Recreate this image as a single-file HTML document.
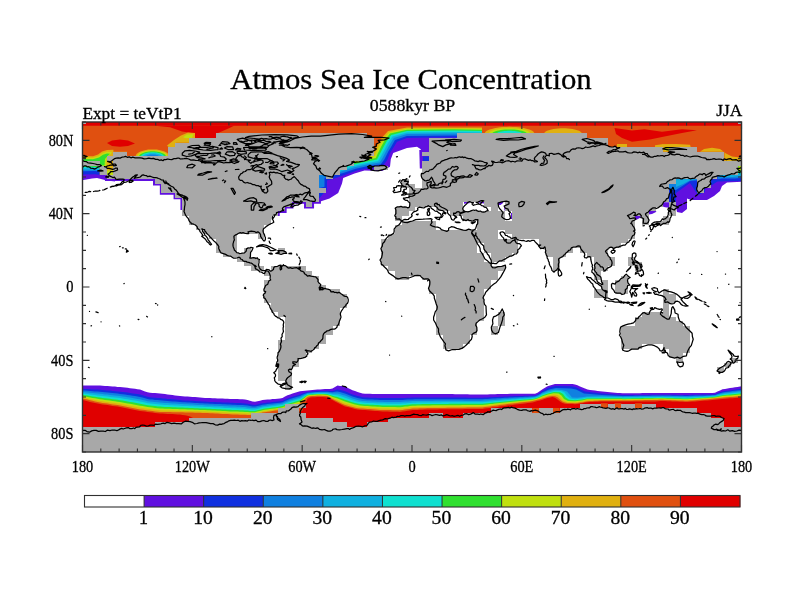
<!DOCTYPE html>
<html lang="en"><head><meta charset="utf-8"><title>Atmos Sea Ice Concentration</title>
<style>html,body{margin:0;padding:0;background:#fff;overflow:hidden}svg{display:block}text{font-family:"Liberation Serif", "DejaVu Serif", serif;fill:#000;stroke:#000;stroke-width:0.3px}</style>
</head><body>
<svg width="800" height="600" viewBox="0 0 800 600">
<rect width="800" height="600" fill="#fff"/>
<g id="ice" clip-path="url(#clipmap)">
<path fill="#e05010" d="M80.0 120.0 L745.0 120.0 L745.0 172.0 L80.0 172.0 Z"/>
<path fill="#ffffff" d="M368.0 133.4 L500.0 133.4 L500.0 215.0 L318.0 215.0 L318.0 172.0 L345.0 172.0 L368.0 160.0 Z"/>
<path fill="#6010e0" d="M482.0 150.5 L429.5 150.5 L429.5 168.0 L420.8 168.0 L420.8 149.2 L417.0 146.8 L407.0 148.0 L393.2 153.0 L390.8 159.2 L390.0 166.8 L382.0 171.0 L364.5 170.5 L354.5 173.5 L343.2 178.0 L342.0 183.5 L338.2 193.0 L329.5 198.5 L319.5 201.8 L300.0 201.8 L300.0 122.0 L482.0 122.0 Z"/>
<path fill="#1030e0" d="M482.0 138.0 L454.5 137.5 L432.0 137.5 L407.0 138.0 L397.0 141.8 L393.2 148.0 L390.0 153.0 L387.0 160.5 L382.0 166.8 L369.5 168.0 L357.0 170.5 L344.5 175.0 L335.8 178.0 L327.0 180.5 L327.0 189.2 L319.5 198.0 L300.0 198.0 L300.0 122.0 L482.0 122.0 Z"/>
<path fill="#1080e0" d="M482.0 136.0 L454.5 135.5 L407.0 136.0 L395.0 140.0 L391.2 146.8 L388.2 151.8 L384.5 159.2 L380.8 164.2 L368.2 166.0 L355.8 168.8 L343.2 173.0 L332.0 176.0 L324.5 178.0 L324.5 186.8 L319.5 188.0 L300.0 188.0 L300.0 122.0 L482.0 122.0 Z"/>
<path fill="#10b0e0" d="M482.0 134.0 L454.5 133.5 L407.0 134.0 L393.8 138.0 L389.5 145.0 L386.5 150.5 L382.5 158.0 L379.5 162.5 L367.0 164.5 L354.5 167.2 L342.0 171.2 L335.8 174.2 L319.5 174.2 L300.0 174.2 L300.0 122.0 L482.0 122.0 Z"/>
<path fill="#10e0d0" d="M482.0 132.5 L454.5 132.0 L407.0 132.5 L392.5 136.5 L388.0 143.0 L384.8 149.2 L381.0 156.2 L378.2 161.0 L365.8 163.2 L353.2 166.0 L342.0 169.8 L337.5 172.0 L319.5 172.0 L300.0 172.0 L300.0 122.0 L482.0 122.0 Z"/>
<path fill="#30e030" d="M482.0 131.0 L454.5 130.5 L407.0 131.0 L391.2 135.0 L386.5 141.5 L383.2 147.5 L379.5 154.5 L377.0 159.5 L364.5 162.0 L352.5 164.8 L342.0 168.0 L339.0 170.0 L319.5 170.0 L300.0 170.0 L300.0 122.0 L482.0 122.0 Z"/>
<path fill="#c0e010" d="M482.0 129.8 L454.5 129.2 L407.0 129.8 L390.0 133.5 L385.0 140.0 L381.5 146.0 L378.0 153.0 L375.8 158.0 L364.0 160.8 L352.5 163.2 L319.5 165.5 L300.0 165.5 L300.0 122.0 L482.0 122.0 Z"/>
<path fill="#e0b010" d="M482.0 128.8 L467.0 128.5 L407.0 128.8 L389.0 132.2 L383.8 138.5 L380.0 144.5 L376.5 151.5 L374.5 156.0 L367.0 158.0 L319.5 160.5 L300.0 160.5 L300.0 122.0 L482.0 122.0 Z"/>
<path fill="#e05010" d="M482.0 127.5 L407.0 127.5 L388.0 131.0 L382.5 137.0 L378.5 143.0 L375.0 150.0 L372.0 153.0 L319.5 155.5 L300.0 155.5 L300.0 122.0 L482.0 122.0 Z"/>
<path fill="#1030e0" d="M422.8 156.4 L429.8 156.4 L429.8 161.0 L422.8 161.0 Z"/>
<path fill="#e00000" d="M80.0 120.0 L745.0 120.0 L745.0 125.8 L80.0 125.8 Z"/>
<path fill="#e00000" d="M155.0 125.8 L170.0 127.3 L182.0 131.5 L193.0 133.3 L195.0 138.0 L217.5 138.0 L217.5 133.3 L229.5 127.9 L234.0 125.8 Z"/>
<path fill="#e0b010" d="M195.0 133.0 L188.0 132.5 L181.0 135.5 L174.0 140.0 L167.0 145.5 L169.0 147.5 L176.0 147.4 L176.0 142.8 L189.7 142.8 L189.7 138.2 L195.0 138.0 Z"/>
<path fill="#c0e010" d="M193.5 134.3 L187.0 134.5 L183.0 137.2 L186.0 138.3 L192.0 138.0 Z"/>
<path fill="#e00000" d="M107.0 143.0 L112.0 140.5 L120.0 139.5 L128.0 140.5 L135.0 143.5 L128.0 146.0 L120.0 146.8 L112.0 146.0 Z"/>
<path fill="#e0b010" d="M169.5 156.6 L169.4 155.7 L168.9 154.7 L168.2 153.8 L167.2 153.0 L166.0 152.2 L164.5 151.5 L162.8 150.9 L161.0 150.4 L159.0 149.9 L156.9 149.6 L154.7 149.5 L152.5 149.4 L150.3 149.5 L148.1 149.6 L146.0 149.9 L144.0 150.4 L142.2 150.9 L140.5 151.5 L139.0 152.2 L137.8 153.0 L136.8 153.8 L136.1 154.7 L135.6 155.7 L135.5 156.6 Z"/>
<path fill="#c0e010" d="M167.7 156.6 L167.6 155.8 L167.2 155.0 L166.5 154.2 L165.7 153.5 L164.6 152.8 L163.2 152.2 L161.8 151.7 L160.1 151.2 L158.3 150.9 L156.4 150.6 L154.5 150.5 L152.5 150.4 L150.5 150.5 L148.6 150.6 L146.7 150.9 L144.9 151.2 L143.2 151.7 L141.8 152.2 L140.4 152.8 L139.3 153.5 L138.5 154.2 L137.8 155.0 L137.4 155.8 L137.3 156.6 Z"/>
<path fill="#30e030" d="M166.0 156.6 L165.9 155.9 L165.5 155.2 L165.0 154.6 L164.2 153.9 L163.2 153.4 L162.0 152.9 L160.7 152.4 L159.2 152.0 L157.7 151.7 L156.0 151.5 L154.3 151.3 L152.5 151.3 L150.7 151.3 L149.0 151.5 L147.3 151.7 L145.8 152.0 L144.3 152.4 L143.0 152.9 L141.8 153.4 L140.8 153.9 L140.0 154.6 L139.5 155.2 L139.1 155.9 L139.0 156.6 Z"/>
<path fill="#10e0d0" d="M164.0 156.6 L163.9 156.0 L163.6 155.5 L163.1 155.0 L162.5 154.4 L161.6 154.0 L160.6 153.6 L159.5 153.2 L158.2 152.9 L156.9 152.6 L155.5 152.4 L154.0 152.3 L152.5 152.3 L151.0 152.3 L149.5 152.4 L148.1 152.6 L146.8 152.9 L145.5 153.2 L144.4 153.6 L143.4 154.0 L142.5 154.4 L141.9 155.0 L141.4 155.5 L141.1 156.0 L141.0 156.6 Z"/>
<path fill="#10b0e0" d="M162.0 156.6 L161.9 156.2 L161.7 155.7 L161.3 155.3 L160.7 154.9 L160.0 154.5 L159.2 154.2 L158.3 153.9 L157.2 153.7 L156.1 153.5 L155.0 153.3 L153.7 153.2 L152.5 153.2 L151.3 153.2 L150.0 153.3 L148.9 153.5 L147.8 153.7 L146.7 153.9 L145.8 154.2 L145.0 154.5 L144.3 154.9 L143.7 155.3 L143.3 155.7 L143.1 156.2 L143.0 156.6 Z"/>
<path fill="#1080e0" d="M159.0 156.6 L158.9 156.3 L158.8 156.0 L158.5 155.8 L158.1 155.5 L157.7 155.3 L157.1 155.0 L156.5 154.9 L155.8 154.7 L155.0 154.6 L154.2 154.5 L153.3 154.4 L152.5 154.4 L151.7 154.4 L150.8 154.5 L150.0 154.6 L149.2 154.7 L148.5 154.9 L147.9 155.0 L147.3 155.3 L146.9 155.5 L146.5 155.8 L146.2 156.0 L146.1 156.3 L146.0 156.6 Z"/>
<path fill="#e00000" d="M614.5 128.0 L632.0 130.5 L644.5 129.3 L662.0 131.7 L682.0 129.3 L697.0 130.3 L682.0 133.0 L662.0 137.0 L650.0 139.5 L632.0 141.7 L622.0 138.0 L616.0 134.0 Z"/>
<path fill="#e0b010" d="M534.5 133.8 L534.3 132.9 L533.6 132.0 L532.6 131.1 L531.2 130.3 L529.3 129.5 L527.2 128.9 L524.7 128.2 L522.0 127.7 L519.1 127.3 L516.0 127.0 L512.8 126.9 L509.5 126.8 L506.2 126.9 L503.0 127.0 L499.9 127.3 L497.0 127.7 L494.3 128.2 L491.8 128.9 L489.7 129.5 L487.8 130.3 L486.4 131.1 L485.4 132.0 L484.7 132.9 L484.5 133.8 Z"/>
<path fill="#c0e010" d="M530.5 133.8 L530.3 133.1 L529.8 132.4 L528.9 131.7 L527.7 131.0 L526.2 130.4 L524.3 129.8 L522.3 129.4 L520.0 129.0 L517.5 128.6 L514.9 128.4 L512.2 128.2 L509.5 128.2 L506.8 128.2 L504.1 128.4 L501.5 128.6 L499.0 129.0 L496.7 129.4 L494.7 129.8 L492.8 130.4 L491.3 131.0 L490.1 131.7 L489.2 132.4 L488.7 133.1 L488.5 133.8 Z"/>
<path fill="#30e030" d="M527.0 133.8 L526.9 133.2 L526.4 132.7 L525.7 132.2 L524.7 131.7 L523.4 131.2 L521.9 130.8 L520.2 130.4 L518.2 130.1 L516.2 129.8 L514.0 129.6 L511.8 129.5 L509.5 129.5 L507.2 129.5 L505.0 129.6 L502.8 129.8 L500.8 130.1 L498.8 130.4 L497.1 130.8 L495.6 131.2 L494.3 131.7 L493.3 132.2 L492.6 132.7 L492.1 133.2 L492.0 133.8 Z"/>
<path fill="#10e0d0" d="M522.5 133.8 L522.4 133.4 L522.1 133.0 L521.5 132.7 L520.8 132.3 L519.8 132.0 L518.7 131.7 L517.4 131.4 L516.0 131.2 L514.5 131.0 L512.9 130.9 L511.2 130.8 L509.5 130.8 L507.8 130.8 L506.1 130.9 L504.5 131.0 L503.0 131.2 L501.6 131.4 L500.3 131.7 L499.2 132.0 L498.2 132.3 L497.5 132.7 L496.9 133.0 L496.6 133.4 L496.5 133.8 Z"/>
<path fill="#e0b010" d="M582.0 133.8 L581.8 133.1 L581.4 132.4 L580.6 131.7 L579.5 131.1 L578.1 130.5 L576.4 129.9 L574.6 129.4 L572.5 129.0 L570.3 128.7 L567.9 128.5 L565.5 128.3 L563.0 128.3 L560.5 128.3 L558.1 128.5 L555.7 128.7 L553.5 129.0 L551.4 129.4 L549.6 129.9 L547.9 130.5 L546.5 131.1 L545.4 131.7 L544.6 132.4 L544.2 133.1 L544.0 133.8 Z"/>
<path fill="#e0b010" d="M617.0 144.0 L627.0 144.0 L627.0 147.3 L617.0 147.3 Z"/>
<path fill="#e0b010" d="M662.0 144.5 L676.0 144.2 L676.0 151.8 L662.0 151.8 Z"/>
<path fill="#c0e010" d="M665.0 146.5 L672.0 146.5 L672.0 150.5 L665.0 150.5 Z"/>
<path fill="#e0b010" d="M655.0 145.2 L662.0 144.3 L676.0 144.0 L690.0 144.8 L691.0 147.4 L655.0 147.4 Z"/>
<path fill="#e0b010" d="M700.0 151.8 L704.0 149.0 L712.0 147.7 L720.0 149.0 L726.0 153.5 L732.0 156.5 L745.0 158.0 L745.0 161.2 L724.4 161.2 L724.4 151.8 Z"/>
<path fill="#6010e0" d="M80.0 161.0 L106.5 161.0 L106.5 175.0 L115.0 179.3 L115.0 181.5 L107.0 180.5 L97.0 178.0 L92.0 178.5 L80.0 180.7 Z"/>
<path fill="#1030e0" d="M80.0 161.0 L106.5 161.0 L106.5 175.0 L101.0 175.0 L95.0 174.3 L80.0 174.5 Z"/>
<path fill="#1080e0" d="M80.0 161.0 L99.7 161.0 L99.7 171.5 L95.0 171.0 L80.0 171.2 Z"/>
<path fill="#10b0e0" d="M80.0 161.0 L99.7 161.0 L99.7 170.0 L94.0 169.5 L80.0 169.7 Z"/>
<path fill="#10e0d0" d="M80.0 161.0 L99.7 161.0 L99.7 168.6 L93.0 168.0 L80.0 168.3 Z"/>
<path fill="#30e030" d="M80.0 161.0 L99.7 161.0 L99.7 167.2 L92.0 166.8 L80.0 167.0 Z"/>
<path fill="#e0b010" d="M80.0 155.8 L93.0 156.3 L98.0 154.5 L102.0 151.5 L107.0 150.0 L113.4 149.8 L113.4 151.8 L127.0 151.8 L127.0 156.4 L113.4 156.4 L113.4 175.0 L99.7 175.0 L99.7 161.0 L80.0 161.0 Z"/>
<path fill="#c0e010" d="M80.0 157.3 L93.0 157.8 L98.5 156.0 L102.5 153.2 L107.0 151.8 L112.0 152.0 L110.0 155.0 L107.0 158.0 L106.5 161.0 L106.5 166.0 L99.7 166.0 L99.7 161.0 L80.0 161.0 Z"/>
<path fill="#30e030" d="M80.0 159.0 L93.0 159.3 L99.0 157.5 L103.0 154.8 L107.0 153.5 L110.0 153.8 L107.5 156.0 L105.0 159.0 L104.5 165.5 L99.7 165.5 L99.7 161.0 L80.0 161.0 Z"/>
<path fill="#c0e010" d="M106.5 170.5 L113.4 170.5 L113.4 175.0 L106.5 175.0 Z"/>
<path fill="#6010e0" d="M712.0 174.7 L745.0 174.7 L745.0 181.5 L727.0 182.5 L722.0 186.0 L720.0 191.0 L714.0 196.0 L707.0 200.0 L699.0 200.0 L691.0 200.0 L687.0 198.5 L687.0 209.0 L682.0 213.0 L677.0 212.0 L676.0 207.0 L669.0 205.0 L669.0 174.7 Z"/>
<path fill="#1030e0" d="M738.0 165.5 L745.0 165.5 L745.0 181.0 L725.0 181.2 L717.5 181.5 L712.0 185.0 L704.0 189.0 L704.0 179.3 L717.5 179.3 L717.5 174.7 L738.0 174.7 Z"/>
<path fill="#1080e0" d="M738.0 165.5 L745.0 165.5 L745.0 177.5 L735.0 178.5 L722.0 178.5 L717.5 179.3 L717.5 174.7 L738.0 174.7 Z"/>
<path fill="#10b0e0" d="M738.0 165.5 L745.0 165.5 L745.0 175.5 L732.0 177.0 L720.0 177.3 L720.0 174.7 L738.0 174.7 Z"/>
<path fill="#10e0d0" d="M738.0 165.5 L745.0 165.5 L745.0 173.5 L738.0 174.0 Z"/>
<path fill="#30e030" d="M738.0 165.5 L745.0 165.5 L745.0 172.0 L738.0 172.5 Z"/>
<path fill="#c0e010" d="M738.5 165.5 L745.0 165.5 L745.0 170.0 L738.5 170.5 Z"/>
<path fill="#1030e0" d="M669.0 174.7 L705.0 174.7 L705.0 192.0 L698.0 195.0 L690.0 183.0 L676.0 193.0 L676.0 202.0 L669.0 203.0 Z"/>
<path fill="#1080e0" d="M669.0 174.7 L700.0 174.7 L700.0 180.0 L690.0 181.0 L676.0 190.0 L670.0 190.0 L669.0 189.0 Z"/>
<path fill="#10b0e0" d="M676.0 179.3 L697.0 179.3 L690.0 180.3 L683.0 184.0 L676.0 187.0 Z"/>
<path fill="#6010e0" d="M662.0 202.5 L669.0 202.5 L669.0 207.5 L664.0 207.0 L662.0 205.0 Z"/>
<path fill="#6010e0" d="M498.0 201.3 L503.0 201.3 L503.0 203.0 L500.5 205.0 L498.0 205.0 Z"/>
<path fill="#6010e0" d="M504.3 206.0 L505.3 206.0 L505.3 210.5 L504.3 210.5 Z"/>
<path fill="#6010e0" d="M511.0 213.0 L512.0 213.0 L512.0 219.0 L511.0 219.0 Z"/>
<path fill="#6010e0" d="M634.5 215.2 L640.7 215.2 L640.7 217.5 L637.0 219.5 L634.5 219.5 Z"/>
<path fill="#6010e0" d="M648.5 210.6 L655.0 210.6 L656.5 211.8 L652.0 214.0 L648.5 214.5 Z"/>
<path fill="#6010e0" d="M662.0 202.5 L669.0 202.5 L669.0 207.5 L664.0 207.0 L662.0 205.0 Z"/>
<path fill="#6010e0" d="M419.3 150.0 L423.0 150.0 L423.0 168.5 L419.8 168.5 Z"/>
<path fill="#6010e0" d="M464.0 201.6 L469.5 201.6 L469.5 203.2 L464.0 203.8 Z"/>
<path fill="#6010e0" d="M477.0 201.2 L484.0 201.2 L484.0 203.6 L480.0 203.0 Z"/><path fill="#6010e0" d="M80.0 385.6 L82.5 385.6 L85.0 385.6 L87.5 385.6 L90.0 385.6 L92.5 385.5 L95.0 385.5 L97.5 385.5 L100.0 385.5 L102.5 385.7 L105.0 385.9 L107.5 386.0 L110.0 386.2 L112.5 386.4 L115.0 386.6 L117.5 386.9 L120.0 387.1 L122.5 387.3 L125.0 387.5 L127.5 387.8 L130.0 388.2 L132.5 388.5 L135.0 388.8 L137.5 389.2 L140.0 389.5 L142.5 390.4 L145.0 391.4 L147.5 392.3 L150.0 392.7 L152.5 392.9 L155.0 393.1 L157.5 393.3 L160.0 393.5 L162.5 393.8 L165.0 394.1 L167.5 394.4 L170.0 394.8 L172.5 395.1 L175.0 395.4 L177.5 395.7 L180.0 396.0 L182.5 396.2 L185.0 396.4 L187.5 396.6 L190.0 396.7 L192.5 396.9 L195.0 397.1 L197.5 397.3 L200.0 397.5 L202.5 397.7 L205.0 397.9 L207.5 398.0 L210.0 398.1 L212.5 398.2 L215.0 398.3 L217.5 398.4 L220.0 398.5 L222.5 398.6 L225.0 398.7 L227.5 398.8 L230.0 398.9 L232.5 399.0 L235.0 399.0 L237.5 399.1 L240.0 399.2 L242.5 399.3 L245.0 399.5 L247.5 400.1 L250.0 400.8 L252.5 401.4 L255.0 401.8 L257.5 401.2 L260.0 400.7 L262.5 400.1 L265.0 399.8 L267.5 399.6 L270.0 399.4 L272.5 399.1 L275.0 398.9 L277.5 398.7 L280.0 398.5 L282.5 398.0 L285.0 396.6 L287.5 395.3 L290.0 394.4 L292.5 393.6 L295.0 392.8 L297.5 392.1 L300.0 391.3 L302.5 390.9 L305.0 390.7 L307.5 390.4 L310.0 390.2 L312.5 390.0 L315.0 389.8 L317.5 389.6 L320.0 389.4 L322.5 389.2 L325.0 389.1 L327.5 389.0 L330.0 388.9 L332.5 388.4 L335.0 386.9 L337.5 385.6 L340.0 385.9 L342.5 386.1 L345.0 386.5 L347.5 387.8 L350.0 389.0 L352.5 390.2 L355.0 391.0 L357.5 391.9 L360.0 392.7 L362.5 393.6 L365.0 393.8 L367.5 393.8 L370.0 393.8 L372.5 393.9 L375.0 393.9 L377.5 393.9 L380.0 394.0 L382.5 394.0 L385.0 394.0 L387.5 394.0 L390.0 394.0 L392.5 394.0 L395.0 394.0 L397.5 394.0 L400.0 394.0 L402.5 394.0 L405.0 394.0 L407.5 394.0 L410.0 394.0 L412.5 394.0 L415.0 394.0 L417.5 394.0 L420.0 394.0 L422.5 394.0 L425.0 394.0 L427.5 394.0 L430.0 394.0 L432.5 394.0 L435.0 394.0 L437.5 394.0 L440.0 394.0 L442.5 394.0 L445.0 394.1 L447.5 394.1 L450.0 394.1 L452.5 394.1 L455.0 394.2 L457.5 394.2 L460.0 394.2 L462.5 394.3 L465.0 394.3 L467.5 394.3 L470.0 394.4 L472.5 394.4 L475.0 394.4 L477.5 394.4 L480.0 394.5 L482.5 394.5 L485.0 394.4 L487.5 394.4 L490.0 394.3 L492.5 394.2 L495.0 394.2 L497.5 394.1 L500.0 394.1 L502.5 394.0 L505.0 393.9 L507.5 393.9 L510.0 393.8 L512.5 393.8 L515.0 393.8 L517.5 393.8 L520.0 393.8 L522.5 393.8 L525.0 393.8 L527.5 393.8 L530.0 393.8 L532.5 393.8 L535.0 393.8 L537.5 392.7 L540.0 390.9 L542.5 389.2 L545.0 387.8 L547.5 386.3 L550.0 385.4 L552.5 384.7 L555.0 384.0 L557.5 384.0 L560.0 384.0 L562.5 384.0 L565.0 384.0 L567.5 384.0 L570.0 384.0 L572.5 384.1 L575.0 384.6 L577.5 385.2 L580.0 386.4 L582.5 387.5 L585.0 388.6 L587.5 389.6 L590.0 389.9 L592.5 390.2 L595.0 390.6 L597.5 390.9 L600.0 391.2 L602.5 391.5 L605.0 391.8 L607.5 392.0 L610.0 392.2 L612.5 392.4 L615.0 392.7 L617.5 392.9 L620.0 393.1 L622.5 393.3 L625.0 393.3 L627.5 393.3 L630.0 393.2 L632.5 393.2 L635.0 393.2 L637.5 393.2 L640.0 393.2 L642.5 393.1 L645.0 393.1 L647.5 393.1 L650.0 393.1 L652.5 393.1 L655.0 393.1 L657.5 393.0 L660.0 393.0 L662.5 393.0 L665.0 393.0 L667.5 393.0 L670.0 393.0 L672.5 393.0 L675.0 393.0 L677.5 393.0 L680.0 393.0 L682.5 393.0 L685.0 393.0 L687.5 393.0 L690.0 393.0 L692.5 393.0 L695.0 393.0 L697.5 393.0 L700.0 393.0 L702.5 393.0 L705.0 393.0 L707.5 393.0 L710.0 393.0 L712.5 393.0 L715.0 392.8 L717.5 391.6 L720.0 390.4 L722.5 389.3 L725.0 388.9 L727.5 388.5 L730.0 388.1 L732.5 387.7 L735.0 387.3 L737.5 386.9 L740.0 386.5 L742.5 386.2 L745.0 386.2 L745.0 455.0 L80.0 455.0 Z"/>
<path fill="#1030e0" d="M80.0 388.8 L82.5 388.8 L85.0 389.0 L87.5 389.1 L90.0 389.2 L92.5 389.4 L95.0 389.5 L97.5 389.6 L100.0 389.8 L102.5 390.0 L105.0 390.2 L107.5 390.4 L110.0 390.6 L112.5 390.9 L115.0 391.2 L117.5 391.4 L120.0 391.7 L122.5 392.0 L125.0 392.2 L127.5 392.6 L130.0 393.0 L132.5 393.4 L135.0 393.8 L137.5 394.1 L140.0 394.5 L142.5 395.3 L145.0 396.1 L147.5 396.8 L150.0 397.2 L152.5 397.4 L155.0 397.7 L157.5 397.9 L160.0 398.1 L162.5 398.4 L165.0 398.6 L167.5 398.9 L170.0 399.1 L172.5 399.3 L175.0 399.6 L177.5 399.8 L180.0 400.1 L182.5 400.2 L185.0 400.4 L187.5 400.5 L190.0 400.7 L192.5 400.8 L195.0 401.0 L197.5 401.2 L200.0 401.3 L202.5 401.5 L205.0 401.6 L207.5 401.8 L210.0 401.9 L212.5 402.0 L215.0 402.1 L217.5 402.2 L220.0 402.3 L222.5 402.4 L225.0 402.5 L227.5 402.6 L230.0 402.7 L232.5 402.8 L235.0 402.9 L237.5 403.0 L240.0 403.1 L242.5 403.2 L245.0 403.4 L247.5 403.8 L250.0 404.3 L252.5 404.7 L255.0 405.0 L257.5 404.4 L260.0 403.8 L262.5 403.2 L265.0 402.9 L267.5 402.6 L270.0 402.4 L272.5 402.1 L275.0 401.8 L277.5 401.6 L280.0 401.3 L282.5 400.9 L285.0 399.6 L287.5 398.4 L290.0 397.5 L292.5 396.7 L295.0 396.0 L297.5 395.2 L300.0 394.5 L302.5 393.5 L305.0 392.7 L307.5 392.0 L310.0 391.7 L312.5 391.5 L315.0 391.3 L317.5 391.1 L320.0 391.0 L322.5 390.9 L325.0 390.9 L327.5 390.8 L330.0 391.0 L332.5 391.0 L335.0 390.2 L337.5 389.6 L340.0 390.1 L342.5 390.6 L345.0 391.2 L347.5 392.3 L350.0 393.4 L352.5 394.4 L355.0 395.2 L357.5 396.0 L360.0 396.6 L362.5 397.3 L365.0 397.5 L367.5 397.6 L370.0 397.7 L372.5 397.7 L375.0 397.8 L377.5 397.9 L380.0 397.9 L382.5 398.0 L385.0 398.0 L387.5 398.0 L390.0 398.0 L392.5 398.0 L395.0 398.1 L397.5 398.1 L400.0 398.1 L402.5 398.0 L405.0 397.9 L407.5 397.8 L410.0 397.7 L412.5 397.6 L415.0 397.6 L417.5 397.6 L420.0 397.6 L422.5 397.6 L425.0 397.5 L427.5 397.5 L430.0 397.5 L432.5 397.5 L435.0 397.5 L437.5 397.5 L440.0 397.5 L442.5 397.5 L445.0 397.5 L447.5 397.5 L450.0 397.5 L452.5 397.6 L455.0 397.6 L457.5 397.6 L460.0 397.6 L462.5 397.6 L465.0 397.6 L467.5 397.7 L470.0 397.7 L472.5 397.7 L475.0 397.7 L477.5 397.7 L480.0 397.7 L482.5 397.7 L485.0 397.6 L487.5 397.5 L490.0 397.3 L492.5 397.2 L495.0 397.1 L497.5 397.0 L500.0 396.8 L502.5 396.7 L505.0 396.6 L507.5 396.4 L510.0 396.3 L512.5 396.2 L515.0 396.1 L517.5 396.0 L520.0 396.0 L522.5 395.9 L525.0 395.8 L527.5 395.7 L530.0 395.7 L532.5 395.6 L535.0 395.4 L537.5 394.5 L540.0 393.0 L542.0 391.0 L549.0 387.5 L556.0 386.0 L571.0 386.2 L576.0 387.2 L585.0 391.5 L602.0 393.5 L622.0 395.0 L622.5 395.1 L625.0 395.1 L627.5 395.1 L630.0 395.0 L632.5 395.0 L635.0 395.0 L637.5 395.0 L640.0 394.9 L642.5 394.9 L645.0 394.9 L647.5 394.9 L650.0 394.8 L652.5 394.8 L655.0 394.8 L657.5 394.7 L660.0 394.7 L662.5 394.7 L665.0 394.7 L667.5 394.8 L670.0 394.8 L672.5 394.8 L675.0 394.8 L677.5 394.9 L680.0 394.9 L682.5 394.9 L685.0 394.9 L687.5 394.9 L690.0 394.9 L692.5 394.8 L695.0 394.8 L697.5 394.7 L700.0 394.7 L702.5 394.6 L705.0 394.6 L707.5 394.5 L710.0 394.5 L712.5 394.4 L715.0 394.2 L717.5 393.2 L720.0 392.3 L722.5 391.4 L725.0 391.1 L727.5 390.7 L730.0 390.4 L732.5 390.0 L735.0 389.7 L737.5 389.3 L740.0 389.0 L742.5 388.8 L745.0 388.8 L745.0 455.0 L80.0 455.0 Z"/>
<path fill="#1080e0" d="M80.0 390.4 L82.5 390.4 L85.0 390.6 L87.5 390.8 L90.0 391.0 L92.5 391.2 L95.0 391.4 L97.5 391.6 L100.0 391.8 L102.5 392.0 L105.0 392.3 L107.5 392.5 L110.0 392.8 L112.5 393.1 L115.0 393.3 L117.5 393.6 L120.0 393.9 L122.5 394.2 L125.0 394.5 L127.5 394.9 L130.0 395.3 L132.5 395.7 L135.0 396.1 L137.5 396.5 L140.0 396.9 L142.5 397.6 L145.0 398.3 L147.5 399.0 L150.0 399.4 L152.5 399.6 L155.0 399.9 L157.5 400.1 L160.0 400.3 L162.5 400.6 L165.0 400.8 L167.5 401.0 L170.0 401.2 L172.5 401.4 L175.0 401.6 L177.5 401.8 L180.0 402.0 L182.5 402.2 L185.0 402.3 L187.5 402.4 L190.0 402.6 L192.5 402.7 L195.0 402.9 L197.5 403.0 L200.0 403.2 L202.5 403.3 L205.0 403.4 L207.5 403.6 L210.0 403.7 L212.5 403.8 L215.0 403.9 L217.5 404.0 L220.0 404.1 L222.5 404.2 L225.0 404.3 L227.5 404.5 L230.0 404.6 L232.5 404.7 L235.0 404.8 L237.5 404.9 L240.0 404.9 L242.5 405.0 L245.0 405.2 L247.5 405.6 L250.0 406.0 L252.5 406.4 L255.0 406.5 L257.5 406.0 L260.0 405.4 L262.5 404.7 L265.0 404.4 L267.5 404.1 L270.0 403.8 L272.5 403.5 L275.0 403.2 L277.5 403.0 L280.0 402.7 L282.5 402.2 L285.0 401.0 L287.5 399.9 L290.0 399.0 L292.5 398.2 L295.0 397.5 L297.5 396.7 L300.0 396.0 L302.5 394.8 L305.0 393.7 L307.5 392.8 L310.0 392.5 L312.5 392.3 L315.0 392.1 L317.5 391.9 L320.0 391.7 L322.5 391.7 L325.0 391.7 L327.5 391.7 L330.0 392.0 L332.5 392.3 L335.0 391.8 L337.5 391.5 L340.0 392.1 L342.5 392.7 L345.0 393.4 L347.5 394.4 L350.0 395.4 L352.5 396.4 L355.0 397.2 L357.5 397.9 L360.0 398.5 L362.5 399.1 L365.0 399.3 L367.5 399.4 L370.0 399.5 L372.5 399.6 L375.0 399.7 L377.5 399.8 L380.0 399.9 L382.5 399.9 L385.0 399.9 L387.5 400.0 L390.0 400.0 L392.5 400.0 L395.0 400.0 L397.5 400.0 L400.0 400.0 L402.5 399.9 L405.0 399.8 L407.5 399.6 L410.0 399.5 L412.5 399.4 L415.0 399.3 L417.5 399.3 L420.0 399.3 L422.5 399.3 L425.0 399.2 L427.5 399.2 L430.0 399.2 L432.5 399.2 L435.0 399.2 L437.5 399.2 L440.0 399.2 L442.5 399.2 L445.0 399.2 L447.5 399.2 L450.0 399.2 L452.5 399.2 L455.0 399.2 L457.5 399.2 L460.0 399.2 L462.5 399.2 L465.0 399.2 L467.5 399.3 L470.0 399.3 L472.5 399.3 L475.0 399.3 L477.5 399.3 L480.0 399.3 L482.5 399.3 L485.0 399.1 L487.5 399.0 L490.0 398.8 L492.5 398.6 L495.0 398.5 L497.5 398.3 L500.0 398.2 L502.5 398.0 L505.0 397.8 L507.5 397.7 L510.0 397.5 L512.5 397.4 L515.0 397.3 L517.5 397.2 L520.0 397.0 L522.5 396.9 L525.0 396.8 L527.5 396.7 L530.0 396.6 L532.5 396.5 L535.0 396.2 L537.5 395.3 L540.0 394.0 L542.0 392.5 L549.0 389.5 L556.0 388.0 L571.0 388.5 L576.0 389.5 L584.0 393.5 L602.0 395.0 L622.0 396.0 L622.5 396.0 L625.0 396.0 L627.5 395.9 L630.0 395.9 L632.5 395.9 L635.0 395.8 L637.5 395.8 L640.0 395.8 L642.5 395.8 L645.0 395.7 L647.5 395.7 L650.0 395.7 L652.5 395.6 L655.0 395.6 L657.5 395.6 L660.0 395.5 L662.5 395.5 L665.0 395.6 L667.5 395.6 L670.0 395.6 L672.5 395.7 L675.0 395.7 L677.5 395.7 L680.0 395.8 L682.5 395.8 L685.0 395.9 L687.5 395.9 L690.0 395.8 L692.5 395.7 L695.0 395.6 L697.5 395.6 L700.0 395.5 L702.5 395.4 L705.0 395.4 L707.5 395.3 L710.0 395.2 L712.5 395.1 L715.0 394.9 L717.5 394.0 L720.0 393.2 L722.5 392.4 L725.0 392.1 L727.5 391.8 L730.0 391.4 L732.5 391.1 L735.0 390.8 L737.5 390.5 L740.0 390.2 L742.5 390.0 L745.0 390.0 L745.0 455.0 L80.0 455.0 Z"/>
<path fill="#10b0e0" d="M80.0 391.9 L82.5 391.9 L85.0 392.2 L87.5 392.5 L90.0 392.7 L92.5 393.0 L95.0 393.3 L97.5 393.6 L100.0 393.8 L102.5 394.1 L105.0 394.4 L107.5 394.6 L110.0 394.9 L112.5 395.2 L115.0 395.5 L117.5 395.8 L120.0 396.1 L122.5 396.5 L125.0 396.8 L127.5 397.2 L130.0 397.6 L132.5 398.1 L135.0 398.5 L137.5 398.9 L140.0 399.3 L142.5 399.9 L145.0 400.6 L147.5 401.2 L150.0 401.5 L152.5 401.8 L155.0 402.0 L157.5 402.3 L160.0 402.6 L162.5 402.7 L165.0 402.9 L167.5 403.1 L170.0 403.3 L172.5 403.4 L175.0 403.6 L177.5 403.8 L180.0 404.0 L182.5 404.1 L185.0 404.2 L187.5 404.3 L190.0 404.5 L192.5 404.6 L195.0 404.7 L197.5 404.9 L200.0 405.0 L202.5 405.1 L205.0 405.2 L207.5 405.4 L210.0 405.5 L212.5 405.6 L215.0 405.7 L217.5 405.8 L220.0 406.0 L222.5 406.1 L225.0 406.2 L227.5 406.3 L230.0 406.4 L232.5 406.5 L235.0 406.6 L237.5 406.7 L240.0 406.8 L242.5 406.9 L245.0 407.0 L247.5 407.4 L250.0 407.7 L252.5 408.0 L255.0 408.1 L257.5 407.5 L260.0 406.9 L262.5 406.3 L265.0 405.9 L267.5 405.6 L270.0 405.3 L272.5 405.0 L275.0 404.6 L277.5 404.3 L280.0 404.0 L282.5 403.6 L285.0 402.5 L287.5 401.4 L290.0 400.5 L292.5 399.7 L295.0 399.0 L297.5 398.2 L300.0 397.5 L302.5 396.1 L305.0 394.7 L307.5 393.6 L310.0 393.2 L312.5 393.0 L315.0 392.8 L317.5 392.6 L320.0 392.5 L322.5 392.5 L325.0 392.5 L327.5 392.6 L330.0 393.1 L332.5 393.5 L335.0 393.4 L337.5 393.4 L340.0 394.1 L342.5 394.9 L345.0 395.6 L347.5 396.6 L350.0 397.5 L352.5 398.4 L355.0 399.2 L357.5 399.9 L360.0 400.4 L362.5 400.9 L365.0 401.1 L367.5 401.2 L370.0 401.3 L372.5 401.4 L375.0 401.5 L377.5 401.7 L380.0 401.8 L382.5 401.8 L385.0 401.9 L387.5 401.9 L390.0 401.9 L392.5 401.9 L395.0 401.9 L397.5 402.0 L400.0 402.0 L402.5 401.8 L405.0 401.6 L407.5 401.5 L410.0 401.3 L412.5 401.1 L415.0 401.1 L417.5 401.0 L420.0 401.0 L422.5 401.0 L425.0 401.0 L427.5 400.9 L430.0 400.9 L432.5 400.9 L435.0 400.8 L437.5 400.8 L440.0 400.8 L442.5 400.8 L445.0 400.8 L447.5 400.8 L450.0 400.8 L452.5 400.8 L455.0 400.8 L457.5 400.8 L460.0 400.8 L462.5 400.8 L465.0 400.9 L467.5 400.9 L470.0 400.9 L472.5 400.9 L475.0 400.9 L477.5 400.9 L480.0 400.9 L482.5 400.8 L485.0 400.6 L487.5 400.4 L490.0 400.3 L492.5 400.1 L495.0 399.9 L497.5 399.7 L500.0 399.5 L502.5 399.3 L505.0 399.1 L507.5 398.9 L510.0 398.7 L512.5 398.6 L515.0 398.4 L517.5 398.3 L520.0 398.1 L522.5 398.0 L525.0 397.8 L527.5 397.7 L530.0 397.5 L532.5 397.3 L535.0 397.0 L537.5 396.2 L540.0 395.0 L542.0 393.5 L548.0 391.0 L555.0 389.5 L562.0 390.0 L567.0 391.5 L570.0 395.0 L572.0 397.5 L577.0 397.8 L582.0 397.2 L587.0 396.5 L602.0 396.3 L622.0 396.8 L622.5 396.9 L625.0 396.8 L627.5 396.8 L630.0 396.8 L632.5 396.7 L635.0 396.7 L637.5 396.7 L640.0 396.6 L642.5 396.6 L645.0 396.6 L647.5 396.5 L650.0 396.5 L652.5 396.5 L655.0 396.4 L657.5 396.4 L660.0 396.4 L662.5 396.3 L665.0 396.4 L667.5 396.4 L670.0 396.5 L672.5 396.5 L675.0 396.6 L677.5 396.6 L680.0 396.7 L682.5 396.7 L685.0 396.8 L687.5 396.8 L690.0 396.7 L692.5 396.6 L695.0 396.5 L697.5 396.4 L700.0 396.3 L702.5 396.2 L705.0 396.1 L707.5 396.0 L710.0 395.9 L712.5 395.8 L715.0 395.6 L717.5 394.8 L720.0 394.1 L722.5 393.4 L725.0 393.1 L727.5 392.8 L730.0 392.5 L732.5 392.2 L735.0 391.9 L737.5 391.6 L740.0 391.3 L742.5 391.2 L745.0 391.2 L745.0 455.0 L80.0 455.0 Z"/>
<path fill="#10e0d0" d="M80.0 393.3 L82.5 393.3 L85.0 393.7 L87.5 394.0 L90.0 394.4 L92.5 394.7 L95.0 395.0 L97.5 395.4 L100.0 395.7 L102.5 396.0 L105.0 396.3 L107.5 396.6 L110.0 396.9 L112.5 397.2 L115.0 397.5 L117.5 397.8 L120.0 398.1 L122.5 398.5 L125.0 398.9 L127.5 399.3 L130.0 399.8 L132.5 400.2 L135.0 400.6 L137.5 401.1 L140.0 401.5 L142.5 402.1 L145.0 402.6 L147.5 403.2 L150.0 403.5 L152.5 403.8 L155.0 404.1 L157.5 404.3 L160.0 404.6 L162.5 404.7 L165.0 404.9 L167.5 405.0 L170.0 405.2 L172.5 405.3 L175.0 405.5 L177.5 405.6 L180.0 405.8 L182.5 405.9 L185.0 406.0 L187.5 406.1 L190.0 406.2 L192.5 406.3 L195.0 406.4 L197.5 406.6 L200.0 406.7 L202.5 406.8 L205.0 406.9 L207.5 407.0 L210.0 407.1 L212.5 407.3 L215.0 407.4 L217.5 407.5 L220.0 407.6 L222.5 407.8 L225.0 407.9 L227.5 408.0 L230.0 408.1 L232.5 408.2 L235.0 408.3 L237.5 408.4 L240.0 408.5 L242.5 408.6 L245.0 408.7 L247.5 409.0 L250.0 409.3 L252.5 409.4 L255.0 409.5 L257.5 408.9 L260.0 408.3 L262.5 407.6 L265.0 407.2 L267.5 406.9 L270.0 406.6 L272.5 406.3 L275.0 405.9 L277.5 405.6 L280.0 405.3 L282.5 404.8 L285.0 403.8 L287.5 402.7 L290.0 401.9 L292.5 401.1 L295.0 400.3 L297.5 399.6 L300.0 398.9 L302.5 397.2 L305.0 395.7 L307.5 394.3 L310.0 393.9 L312.5 393.7 L315.0 393.5 L317.5 393.3 L320.0 393.2 L322.5 393.2 L325.0 393.3 L327.5 393.4 L330.0 394.0 L332.5 394.7 L335.0 394.9 L337.5 395.2 L340.0 396.0 L342.5 396.8 L345.0 397.7 L347.5 398.6 L350.0 399.4 L352.5 400.3 L355.0 401.0 L357.5 401.7 L360.0 402.1 L362.5 402.6 L365.0 402.8 L367.5 402.9 L370.0 403.0 L372.5 403.1 L375.0 403.3 L377.5 403.4 L380.0 403.5 L382.5 403.6 L385.0 403.6 L387.5 403.7 L390.0 403.7 L392.5 403.7 L395.0 403.7 L397.5 403.8 L400.0 403.8 L402.5 403.6 L405.0 403.4 L407.5 403.2 L410.0 402.9 L412.5 402.7 L415.0 402.7 L417.5 402.6 L420.0 402.6 L422.5 402.6 L425.0 402.5 L427.5 402.5 L430.0 402.4 L432.5 402.4 L435.0 402.4 L437.5 402.4 L440.0 402.4 L442.5 402.3 L445.0 402.3 L447.5 402.3 L450.0 402.3 L452.5 402.3 L455.0 402.3 L457.5 402.3 L460.0 402.3 L462.5 402.3 L465.0 402.3 L467.5 402.3 L470.0 402.3 L472.5 402.3 L475.0 402.3 L477.5 402.3 L480.0 402.3 L482.5 402.3 L485.0 402.0 L487.5 401.8 L490.0 401.6 L492.5 401.4 L495.0 401.1 L497.5 400.9 L500.0 400.7 L502.5 400.5 L505.0 400.3 L507.5 400.0 L510.0 399.8 L512.5 399.6 L515.0 399.4 L517.5 399.3 L520.0 399.1 L522.5 398.9 L525.0 398.7 L527.5 398.5 L530.0 398.4 L532.5 398.1 L535.0 397.8 L537.5 397.0 L540.0 395.9 L542.0 394.5 L548.0 392.5 L555.0 390.8 L561.0 391.0 L564.5 392.5 L567.0 396.0 L570.0 398.5 L575.0 399.2 L582.0 398.5 L587.0 397.6 L622.0 397.6 L622.5 397.7 L625.0 397.6 L627.5 397.6 L630.0 397.6 L632.5 397.5 L635.0 397.5 L637.5 397.4 L640.0 397.4 L642.5 397.4 L645.0 397.3 L647.5 397.3 L650.0 397.3 L652.5 397.2 L655.0 397.2 L657.5 397.1 L660.0 397.1 L662.5 397.1 L665.0 397.2 L667.5 397.2 L670.0 397.3 L672.5 397.3 L675.0 397.4 L677.5 397.5 L680.0 397.5 L682.5 397.6 L685.0 397.6 L687.5 397.7 L690.0 397.5 L692.5 397.4 L695.0 397.3 L697.5 397.2 L700.0 397.1 L702.5 396.9 L705.0 396.8 L707.5 396.7 L710.0 396.6 L712.5 396.4 L715.0 396.2 L717.5 395.6 L720.0 394.9 L722.5 394.4 L725.0 394.0 L727.5 393.8 L730.0 393.5 L732.5 393.2 L735.0 393.0 L737.5 392.7 L740.0 392.4 L742.5 392.3 L745.0 392.3 L745.0 455.0 L80.0 455.0 Z"/>
<path fill="#30e030" d="M80.0 394.8 L82.5 394.8 L85.0 395.2 L87.5 395.6 L90.0 396.0 L92.5 396.4 L95.0 396.8 L97.5 397.2 L100.0 397.6 L102.5 397.9 L105.0 398.2 L107.5 398.5 L110.0 398.8 L112.5 399.2 L115.0 399.5 L117.5 399.8 L120.0 400.2 L122.5 400.6 L125.0 401.0 L127.5 401.4 L130.0 401.9 L132.5 402.3 L135.0 402.8 L137.5 403.2 L140.0 403.7 L142.5 404.2 L145.0 404.7 L147.5 405.2 L150.0 405.5 L152.5 405.8 L155.0 406.1 L157.5 406.4 L160.0 406.6 L162.5 406.7 L165.0 406.9 L167.5 407.0 L170.0 407.1 L172.5 407.2 L175.0 407.3 L177.5 407.4 L180.0 407.6 L182.5 407.6 L185.0 407.7 L187.5 407.8 L190.0 407.9 L192.5 408.1 L195.0 408.2 L197.5 408.3 L200.0 408.4 L202.5 408.5 L205.0 408.6 L207.5 408.7 L210.0 408.8 L212.5 408.9 L215.0 409.1 L217.5 409.2 L220.0 409.3 L222.5 409.4 L225.0 409.6 L227.5 409.7 L230.0 409.8 L232.5 409.9 L235.0 410.0 L237.5 410.1 L240.0 410.2 L242.5 410.3 L245.0 410.4 L247.5 410.6 L250.0 410.9 L252.5 410.9 L255.0 410.9 L257.5 410.3 L260.0 409.7 L262.5 409.0 L265.0 408.6 L267.5 408.3 L270.0 407.9 L272.5 407.6 L275.0 407.2 L277.5 406.9 L280.0 406.5 L282.5 406.1 L285.0 405.1 L287.5 404.1 L290.0 403.3 L292.5 402.5 L295.0 401.7 L297.5 401.0 L300.0 400.3 L302.5 398.4 L305.0 396.6 L307.5 395.0 L310.0 394.5 L312.5 394.3 L315.0 394.2 L317.5 394.0 L320.0 393.9 L322.5 394.0 L325.0 394.1 L327.5 394.2 L330.0 394.9 L332.5 395.8 L335.0 396.4 L337.5 396.9 L340.0 397.9 L342.5 398.8 L345.0 399.7 L347.5 400.5 L350.0 401.4 L352.5 402.2 L355.0 402.9 L357.5 403.5 L360.0 403.9 L362.5 404.2 L365.0 404.4 L367.5 404.6 L370.0 404.7 L372.5 404.8 L375.0 405.0 L377.5 405.1 L380.0 405.3 L382.5 405.4 L385.0 405.4 L387.5 405.4 L390.0 405.5 L392.5 405.5 L395.0 405.5 L397.5 405.5 L400.0 405.6 L402.5 405.3 L405.0 405.1 L407.5 404.8 L410.0 404.6 L412.5 404.3 L415.0 404.3 L417.5 404.2 L420.0 404.2 L422.5 404.1 L425.0 404.1 L427.5 404.0 L430.0 404.0 L432.5 403.9 L435.0 403.9 L437.5 403.9 L440.0 403.9 L442.5 403.9 L445.0 403.9 L447.5 403.9 L450.0 403.8 L452.5 403.8 L455.0 403.8 L457.5 403.8 L460.0 403.8 L462.5 403.8 L465.0 403.8 L467.5 403.8 L470.0 403.8 L472.5 403.8 L475.0 403.8 L477.5 403.7 L480.0 403.7 L482.5 403.7 L485.0 403.4 L487.5 403.2 L490.0 402.9 L492.5 402.7 L495.0 402.4 L497.5 402.2 L500.0 401.9 L502.5 401.7 L505.0 401.4 L507.5 401.2 L510.0 400.9 L512.5 400.7 L515.0 400.5 L517.5 400.3 L520.0 400.1 L522.5 399.8 L525.0 399.6 L527.5 399.4 L530.0 399.2 L532.5 399.0 L535.0 398.5 L537.5 397.8 L540.0 396.8 L542.0 395.5 L548.0 393.5 L554.0 392.0 L560.0 392.2 L563.0 394.0 L565.5 397.5 L569.0 399.8 L575.0 400.3 L582.0 399.5 L587.0 398.5 L622.0 398.3 L622.5 398.5 L625.0 398.4 L627.5 398.4 L630.0 398.4 L632.5 398.3 L635.0 398.3 L637.5 398.2 L640.0 398.2 L642.5 398.1 L645.0 398.1 L647.5 398.1 L650.0 398.0 L652.5 398.0 L655.0 397.9 L657.5 397.9 L660.0 397.9 L662.5 397.8 L665.0 397.9 L667.5 398.0 L670.0 398.1 L672.5 398.1 L675.0 398.2 L677.5 398.3 L680.0 398.3 L682.5 398.4 L685.0 398.5 L687.5 398.5 L690.0 398.4 L692.5 398.2 L695.0 398.1 L697.5 397.9 L700.0 397.8 L702.5 397.7 L705.0 397.5 L707.5 397.4 L710.0 397.2 L712.5 397.1 L715.0 396.8 L717.5 396.3 L720.0 395.8 L722.5 395.3 L725.0 395.0 L727.5 394.7 L730.0 394.5 L732.5 394.3 L735.0 394.0 L737.5 393.8 L740.0 393.5 L742.5 393.4 L745.0 393.4 L745.0 455.0 L80.0 455.0 Z"/>
<path fill="#c0e010" d="M80.0 396.0 L82.5 396.0 L85.0 396.5 L87.5 397.0 L90.0 397.4 L92.5 397.9 L95.0 398.3 L97.5 398.8 L100.0 399.3 L102.5 399.6 L105.0 399.9 L107.5 400.3 L110.0 400.6 L112.5 401.0 L115.0 401.3 L117.5 401.7 L120.0 402.0 L122.5 402.4 L125.0 402.9 L127.5 403.4 L130.0 403.8 L132.5 404.3 L135.0 404.8 L137.5 405.2 L140.0 405.7 L142.5 406.1 L145.0 406.6 L147.5 407.0 L150.0 407.3 L152.5 407.6 L155.0 407.9 L157.5 408.2 L160.0 408.5 L162.5 408.6 L165.0 408.7 L167.5 408.7 L170.0 408.8 L172.5 408.9 L175.0 409.0 L177.5 409.1 L180.0 409.2 L182.5 409.2 L185.0 409.3 L187.5 409.4 L190.0 409.5 L192.5 409.6 L195.0 409.7 L197.5 409.8 L200.0 409.9 L202.5 410.0 L205.0 410.1 L207.5 410.2 L210.0 410.3 L212.5 410.4 L215.0 410.6 L217.5 410.7 L220.0 410.8 L222.5 411.0 L225.0 411.1 L227.5 411.2 L230.0 411.4 L232.5 411.5 L235.0 411.6 L237.5 411.6 L240.0 411.7 L242.5 411.8 L245.0 411.9 L247.5 412.1 L250.0 412.3 L252.5 412.2 L255.0 412.2 L257.5 411.6 L260.0 410.9 L262.5 410.3 L265.0 409.8 L267.5 409.5 L270.0 409.1 L272.5 408.7 L275.0 408.4 L277.5 408.0 L280.0 407.7 L282.5 407.2 L285.0 406.3 L287.5 405.3 L290.0 404.5 L292.5 403.7 L295.0 403.0 L297.5 402.3 L300.0 401.6 L302.5 399.5 L305.0 397.4 L307.5 395.6 L310.0 395.1 L312.5 395.0 L315.0 394.8 L317.5 394.6 L320.0 394.5 L322.5 394.6 L325.0 394.8 L327.5 394.9 L330.0 395.8 L332.5 396.9 L335.0 397.7 L337.5 398.5 L340.0 399.5 L342.5 400.6 L345.0 401.6 L347.5 402.3 L350.0 403.1 L352.5 403.8 L355.0 404.5 L357.5 405.1 L360.0 405.4 L362.5 405.7 L365.0 405.9 L367.5 406.1 L370.0 406.2 L372.5 406.4 L375.0 406.5 L377.5 406.7 L380.0 406.8 L382.5 407.0 L385.0 407.0 L387.5 407.0 L390.0 407.1 L392.5 407.1 L395.0 407.1 L397.5 407.2 L400.0 407.2 L402.5 406.9 L405.0 406.6 L407.5 406.4 L410.0 406.1 L412.5 405.8 L415.0 405.7 L417.5 405.6 L420.0 405.6 L422.5 405.5 L425.0 405.5 L427.5 405.4 L430.0 405.4 L432.5 405.3 L435.0 405.3 L437.5 405.3 L440.0 405.3 L442.5 405.3 L445.0 405.2 L447.5 405.2 L450.0 405.2 L452.5 405.2 L455.0 405.2 L457.5 405.2 L460.0 405.2 L462.5 405.1 L465.0 405.1 L467.5 405.1 L470.0 405.1 L472.5 405.1 L475.0 405.1 L477.5 405.1 L480.0 405.0 L482.5 405.0 L485.0 404.7 L487.5 404.4 L490.0 404.1 L492.5 403.9 L495.0 403.6 L497.5 403.3 L500.0 403.0 L502.5 402.7 L505.0 402.5 L507.5 402.2 L510.0 401.9 L512.5 401.7 L515.0 401.4 L517.5 401.2 L520.0 401.0 L522.5 400.7 L525.0 400.5 L527.5 400.2 L530.0 400.0 L532.5 399.7 L535.0 399.2 L537.5 398.5 L540.0 397.6 L542.0 396.5 L548.0 394.5 L553.5 393.2 L558.5 393.5 L561.5 395.5 L564.0 399.0 L568.0 401.0 L575.0 401.3 L582.0 400.5 L587.0 399.3 L622.0 399.0 L622.5 399.2 L625.0 399.2 L627.5 399.1 L630.0 399.1 L632.5 399.0 L635.0 399.0 L637.5 398.9 L640.0 398.9 L642.5 398.9 L645.0 398.8 L647.5 398.8 L650.0 398.7 L652.5 398.7 L655.0 398.6 L657.5 398.6 L660.0 398.5 L662.5 398.5 L665.0 398.6 L667.5 398.7 L670.0 398.8 L672.5 398.8 L675.0 398.9 L677.5 399.0 L680.0 399.1 L682.5 399.2 L685.0 399.3 L687.5 399.3 L690.0 399.1 L692.5 399.0 L695.0 398.8 L697.5 398.6 L700.0 398.5 L702.5 398.3 L705.0 398.2 L707.5 398.0 L710.0 397.8 L712.5 397.7 L715.0 397.4 L717.5 397.0 L720.0 396.5 L722.5 396.1 L725.0 395.8 L727.5 395.6 L730.0 395.4 L732.5 395.2 L735.0 395.0 L737.5 394.7 L740.0 394.5 L742.5 394.4 L745.0 394.4 L745.0 455.0 L80.0 455.0 Z"/>
<path fill="#e0b010" d="M80.0 397.3 L82.5 397.3 L85.0 397.9 L87.5 398.4 L90.0 398.9 L92.5 399.4 L95.0 399.9 L97.5 400.5 L100.0 401.0 L102.5 401.3 L105.0 401.7 L107.5 402.0 L110.0 402.4 L112.5 402.8 L115.0 403.1 L117.5 403.5 L120.0 403.8 L122.5 404.3 L125.0 404.8 L127.5 405.3 L130.0 405.8 L132.5 406.2 L135.0 406.7 L137.5 407.2 L140.0 407.7 L142.5 408.1 L145.0 408.4 L147.5 408.8 L150.0 409.1 L152.5 409.4 L155.0 409.7 L157.5 410.0 L160.0 410.3 L162.5 410.4 L165.0 410.5 L167.5 410.5 L170.0 410.6 L172.5 410.6 L175.0 410.7 L177.5 410.7 L180.0 410.8 L182.5 410.9 L185.0 410.9 L187.5 411.0 L190.0 411.1 L192.5 411.2 L195.0 411.3 L197.5 411.3 L200.0 411.4 L202.5 411.5 L205.0 411.6 L207.5 411.7 L210.0 411.8 L212.5 411.9 L215.0 412.1 L217.5 412.2 L220.0 412.4 L222.5 412.5 L225.0 412.6 L227.5 412.8 L230.0 412.9 L232.5 413.0 L235.0 413.1 L237.5 413.2 L240.0 413.3 L242.5 413.4 L245.0 413.5 L247.5 413.6 L250.0 413.7 L252.5 413.6 L255.0 413.4 L257.5 412.9 L260.0 412.2 L262.5 411.5 L265.0 411.1 L267.5 410.7 L270.0 410.3 L272.5 409.9 L275.0 409.6 L277.5 409.2 L280.0 408.8 L282.5 408.3 L285.0 407.5 L287.5 406.6 L290.0 405.8 L292.5 405.0 L295.0 404.2 L297.5 403.5 L300.0 402.9 L302.5 400.5 L305.0 398.2 L307.5 396.3 L310.0 395.7 L312.5 395.6 L315.0 395.4 L317.5 395.3 L320.0 395.2 L322.5 395.3 L325.0 395.5 L327.5 395.6 L330.0 396.7 L332.5 397.9 L335.0 399.0 L337.5 400.1 L340.0 401.2 L342.5 402.4 L345.0 403.5 L347.5 404.1 L350.0 404.8 L352.5 405.5 L355.0 406.2 L357.5 406.8 L360.0 407.0 L362.5 407.2 L365.0 407.4 L367.5 407.6 L370.0 407.8 L372.5 407.9 L375.0 408.1 L377.5 408.3 L380.0 408.4 L382.5 408.6 L385.0 408.6 L387.5 408.6 L390.0 408.7 L392.5 408.7 L395.0 408.8 L397.5 408.8 L400.0 408.8 L402.5 408.5 L405.0 408.2 L407.5 407.9 L410.0 407.6 L412.5 407.3 L415.0 407.1 L417.5 407.1 L420.0 407.0 L422.5 407.0 L425.0 406.9 L427.5 406.8 L430.0 406.8 L432.5 406.7 L435.0 406.7 L437.5 406.7 L440.0 406.7 L442.5 406.6 L445.0 406.6 L447.5 406.6 L450.0 406.6 L452.5 406.6 L455.0 406.5 L457.5 406.5 L460.0 406.5 L462.5 406.5 L465.0 406.5 L467.5 406.4 L470.0 406.4 L472.5 406.4 L475.0 406.4 L477.5 406.4 L480.0 406.3 L482.5 406.3 L485.0 406.0 L487.5 405.7 L490.0 405.4 L492.5 405.0 L495.0 404.7 L497.5 404.4 L500.0 404.1 L502.5 403.8 L505.0 403.5 L507.5 403.2 L510.0 402.9 L512.5 402.7 L515.0 402.4 L517.5 402.1 L520.0 401.8 L522.5 401.6 L525.0 401.3 L527.5 401.0 L530.0 400.7 L532.5 400.4 L535.0 399.8 L537.5 399.2 L540.0 398.5 L542.0 397.5 L548.0 395.7 L553.0 394.5 L557.5 395.0 L560.0 397.0 L562.5 400.0 L567.0 402.0 L575.0 402.3 L582.0 401.5 L587.0 400.2 L622.0 399.8 L622.5 399.9 L625.0 399.9 L627.5 399.8 L630.0 399.8 L632.5 399.7 L635.0 399.7 L637.5 399.7 L640.0 399.6 L642.5 399.6 L645.0 399.5 L647.5 399.5 L650.0 399.4 L652.5 399.4 L655.0 399.3 L657.5 399.3 L660.0 399.2 L662.5 399.2 L665.0 399.3 L667.5 399.4 L670.0 399.5 L672.5 399.6 L675.0 399.7 L677.5 399.8 L680.0 399.8 L682.5 399.9 L685.0 400.0 L687.5 400.1 L690.0 399.9 L692.5 399.7 L695.0 399.5 L697.5 399.3 L700.0 399.2 L702.5 399.0 L705.0 398.8 L707.5 398.6 L710.0 398.4 L712.5 398.2 L715.0 398.0 L717.5 397.6 L720.0 397.3 L722.5 397.0 L725.0 396.7 L727.5 396.5 L730.0 396.3 L732.5 396.1 L735.0 395.9 L737.5 395.7 L740.0 395.5 L742.5 395.4 L745.0 395.4 L745.0 455.0 L80.0 455.0 Z"/>
<path fill="#e05010" d="M80.0 398.5 L82.5 398.5 L85.0 399.1 L87.5 399.6 L90.0 400.2 L92.5 400.8 L95.0 401.4 L97.5 401.9 L100.0 402.5 L102.5 402.9 L105.0 403.2 L107.5 403.6 L110.0 404.0 L112.5 404.4 L115.0 404.8 L117.5 405.1 L120.0 405.5 L122.5 406.0 L125.0 406.5 L127.5 407.0 L130.0 407.5 L132.5 408.0 L135.0 408.5 L137.5 409.0 L140.0 409.5 L142.5 409.8 L145.0 410.1 L147.5 410.4 L150.0 410.8 L152.5 411.1 L155.0 411.4 L157.5 411.7 L160.0 412.0 L162.5 412.0 L165.0 412.1 L167.5 412.1 L170.0 412.1 L172.5 412.2 L175.0 412.2 L177.5 412.2 L180.0 412.3 L182.5 412.3 L185.0 412.4 L187.5 412.5 L190.0 412.5 L192.5 412.6 L195.0 412.7 L197.5 412.7 L200.0 412.8 L202.5 412.9 L205.0 412.9 L207.5 413.0 L210.0 413.2 L212.5 413.3 L215.0 413.4 L217.5 413.6 L220.0 413.7 L222.5 413.9 L225.0 414.0 L227.5 414.1 L230.0 414.3 L232.5 414.4 L235.0 414.5 L237.5 414.6 L240.0 414.7 L242.5 414.8 L245.0 414.8 L247.5 414.9 L250.0 415.0 L252.5 414.8 L255.0 414.6 L257.5 414.1 L260.0 413.4 L262.5 412.6 L265.0 412.2 L267.5 411.8 L270.0 411.4 L272.5 411.0 L275.0 410.6 L277.5 410.2 L280.0 409.8 L282.5 409.3 L285.0 408.5 L287.5 407.7 L290.0 406.9 L292.5 406.1 L295.0 405.3 L297.5 404.7 L300.0 404.0 L302.5 401.5 L305.0 399.0 L307.5 396.9 L310.0 396.3 L312.5 396.1 L315.0 396.0 L317.5 395.8 L320.0 395.7 L322.5 395.9 L325.0 396.1 L327.5 396.3 L330.0 397.4 L332.5 398.9 L335.0 400.2 L337.5 401.5 L340.0 402.8 L342.5 404.0 L345.0 405.1 L347.5 405.8 L350.0 406.4 L352.5 407.0 L355.0 407.7 L357.5 408.2 L360.0 408.4 L362.5 408.6 L365.0 408.8 L367.5 409.0 L370.0 409.1 L372.5 409.3 L375.0 409.5 L377.5 409.7 L380.0 409.9 L382.5 410.0 L385.0 410.1 L387.5 410.1 L390.0 410.1 L392.5 410.2 L395.0 410.2 L397.5 410.3 L400.0 410.3 L402.5 410.0 L405.0 409.6 L407.5 409.3 L410.0 408.9 L412.5 408.6 L415.0 408.4 L417.5 408.4 L420.0 408.3 L422.5 408.2 L425.0 408.2 L427.5 408.1 L430.0 408.1 L432.5 408.0 L435.0 408.0 L437.5 407.9 L440.0 407.9 L442.5 407.9 L445.0 407.9 L447.5 407.8 L450.0 407.8 L452.5 407.8 L455.0 407.8 L457.5 407.7 L460.0 407.7 L462.5 407.7 L465.0 407.7 L467.5 407.6 L470.0 407.6 L472.5 407.6 L475.0 407.6 L477.5 407.5 L480.0 407.5 L482.5 407.4 L485.0 407.1 L487.5 406.8 L490.0 406.4 L492.5 406.1 L495.0 405.8 L497.5 405.5 L500.0 405.1 L502.5 404.8 L505.0 404.5 L507.5 404.1 L510.0 403.8 L512.5 403.5 L515.0 403.2 L517.5 402.9 L520.0 402.6 L522.5 402.3 L525.0 402.0 L527.5 401.7 L530.0 401.4 L532.5 401.1 L535.0 400.4 L537.5 399.8 L540.0 399.2 L542.5 398.5 L545.0 397.7 L547.5 396.8 L550.0 396.2 L552.5 395.9 L555.0 396.3 L557.5 397.3 L560.0 399.6 L562.5 401.6 L565.0 402.5 L567.5 403.0 L570.0 403.1 L572.5 403.1 L575.0 403.2 L577.5 402.9 L580.0 402.6 L582.5 402.3 L585.0 401.7 L587.5 401.2 L590.0 401.1 L592.5 400.9 L595.0 400.8 L597.5 400.7 L600.0 400.6 L602.5 400.6 L605.0 400.6 L607.5 400.6 L610.0 400.6 L612.5 400.6 L615.0 400.6 L617.5 400.6 L620.0 400.6 L622.5 400.6 L625.0 400.5 L627.5 400.5 L630.0 400.4 L632.5 400.4 L635.0 400.3 L637.5 400.3 L640.0 400.2 L642.5 400.2 L645.0 400.1 L647.5 400.1 L650.0 400.0 L652.5 400.0 L655.0 399.9 L657.5 399.9 L660.0 399.8 L662.5 399.8 L665.0 399.9 L667.5 400.0 L670.0 400.1 L672.5 400.2 L675.0 400.3 L677.5 400.4 L680.0 400.5 L682.5 400.6 L685.0 400.7 L687.5 400.8 L690.0 400.6 L692.5 400.4 L695.0 400.2 L697.5 400.0 L700.0 399.8 L702.5 399.6 L705.0 399.4 L707.5 399.2 L710.0 399.0 L712.5 398.7 L715.0 398.5 L717.5 398.2 L720.0 398.0 L722.5 397.7 L725.0 397.5 L727.5 397.3 L730.0 397.1 L732.5 396.9 L735.0 396.8 L737.5 396.6 L740.0 396.4 L742.5 396.3 L745.0 396.3 L745.0 455.0 L80.0 455.0 Z"/>
<path fill="#e00000" d="M80.0 400.0 L82.5 400.0 L85.0 400.6 L87.5 401.2 L90.0 401.9 L92.5 402.5 L95.0 403.1 L97.5 403.5 L100.0 404.0 L102.5 404.4 L105.0 404.8 L107.5 405.1 L110.0 405.5 L112.5 405.9 L115.0 406.2 L117.5 406.6 L120.0 407.0 L122.5 407.5 L125.0 408.0 L127.5 408.5 L130.0 409.0 L132.5 409.5 L135.0 410.0 L137.5 410.5 L140.0 411.0 L142.5 411.3 L145.0 411.6 L147.5 411.9 L150.0 412.2 L152.5 412.6 L155.0 412.9 L157.5 413.2 L160.0 413.5 L162.5 413.6 L165.0 413.8 L167.5 413.9 L170.0 414.0 L172.5 414.1 L175.0 414.2 L177.5 414.4 L180.0 414.5 L182.5 414.9 L185.0 415.3 L187.5 415.8 L190.0 416.5 L192.5 417.8 L195.0 419.0 L197.5 419.0 L200.0 419.1 L202.5 419.1 L205.0 419.2 L207.5 419.2 L210.0 419.3 L212.5 419.3 L215.0 419.4 L217.5 419.4 L220.0 419.5 L222.5 419.5 L225.0 419.5 L227.5 419.6 L230.0 419.6 L232.5 419.7 L235.0 419.7 L237.5 419.8 L240.0 419.8 L242.5 419.9 L245.0 419.9 L247.5 420.0 L250.0 420.0 L252.5 420.0 L255.0 420.0 L257.5 420.0 L260.0 420.0 L262.5 420.0 L265.0 420.0 L267.5 420.0 L270.0 420.0 L272.5 420.0 L275.0 420.0 L277.5 420.0 L280.0 420.0 L282.5 420.0 L285.0 420.0 L287.5 420.0 L290.0 420.0 L292.5 418.1 L295.0 416.2 L297.5 414.2 L300.0 412.3 L302.5 410.4 L305.0 404.5 L307.5 398.7 L310.0 397.5 L312.5 397.3 L315.0 397.2 L317.5 397.0 L320.0 396.9 L322.5 397.1 L325.0 397.3 L327.5 397.5 L330.0 398.7 L332.5 400.1 L335.0 401.5 L337.5 402.8 L340.0 404.0 L342.5 405.2 L345.0 406.4 L347.5 407.0 L350.0 407.6 L352.5 408.3 L355.0 408.9 L357.5 409.4 L360.0 409.7 L362.5 409.9 L365.0 410.1 L367.5 410.3 L370.0 410.5 L372.5 410.7 L375.0 410.9 L377.5 411.1 L380.0 411.3 L382.5 411.5 L385.0 411.6 L387.5 411.6 L390.0 411.7 L392.5 411.7 L395.0 411.8 L397.5 411.8 L400.0 411.9 L402.5 411.5 L405.0 411.2 L407.5 410.8 L410.0 410.4 L412.5 410.1 L415.0 409.9 L417.5 409.9 L420.0 409.8 L422.5 409.7 L425.0 409.6 L427.5 409.5 L430.0 409.5 L432.5 409.4 L435.0 409.4 L437.5 409.4 L440.0 409.3 L442.5 409.3 L445.0 409.3 L447.5 409.3 L450.0 409.3 L452.5 409.2 L455.0 409.2 L457.5 409.2 L460.0 409.2 L462.5 409.2 L465.0 409.1 L467.5 409.1 L470.0 409.1 L472.5 409.1 L475.0 409.1 L477.5 409.0 L480.0 409.0 L482.5 408.9 L485.0 408.6 L487.5 408.3 L490.0 407.9 L492.5 407.6 L495.0 407.2 L497.5 406.9 L500.0 406.6 L502.5 406.2 L505.0 405.9 L507.5 405.5 L510.0 405.2 L512.5 404.9 L515.0 404.6 L517.5 404.3 L520.0 404.0 L522.5 403.7 L525.0 403.4 L527.5 403.1 L530.0 402.7 L532.5 402.4 L535.0 401.8 L537.5 401.1 L540.0 400.5 L542.5 399.8 L545.0 398.8 L547.5 397.9 L550.0 397.4 L552.5 397.1 L555.0 397.7 L557.5 399.4 L560.0 401.6 L562.5 402.9 L565.0 403.7 L567.5 404.0 L570.0 404.1 L572.5 404.1 L575.0 404.2 L577.5 403.9 L580.0 403.6 L582.5 403.2 L585.0 402.6 L587.5 402.2 L590.0 402.1 L592.5 401.9 L595.0 401.8 L597.5 401.7 L600.0 401.6 L602.5 401.6 L605.0 401.6 L607.5 401.6 L610.0 401.6 L612.5 401.6 L615.0 401.6 L617.5 401.6 L620.0 401.6 L622.5 401.6 L625.0 401.6 L627.5 401.6 L630.0 401.6 L632.5 401.6 L635.0 401.6 L637.5 401.6 L640.0 401.5 L642.5 401.5 L645.0 401.5 L647.5 401.5 L650.0 401.5 L652.5 401.5 L655.0 401.5 L657.5 401.3 L660.0 401.1 L662.5 401.0 L665.0 401.1 L667.5 401.2 L670.0 401.3 L672.5 401.4 L675.0 401.5 L677.5 401.6 L680.0 401.7 L682.5 401.8 L685.0 401.9 L687.5 402.0 L690.0 401.8 L692.5 401.6 L695.0 401.4 L697.5 401.2 L700.0 401.0 L702.5 400.8 L705.0 400.6 L707.5 400.4 L710.0 400.2 L712.5 399.9 L715.0 399.7 L717.5 399.4 L720.0 399.2 L722.5 398.9 L725.0 398.7 L727.5 398.5 L730.0 398.3 L732.5 398.2 L735.0 398.0 L737.5 397.8 L740.0 397.6 L742.5 397.5 L745.0 397.5 L745.0 455.0 L80.0 455.0 Z"/>
<path fill="#e05010" d="M600.8 403.3 L607.7 403.3 L607.7 408.5 L600.8 408.5 Z"/>
<path fill="#e05010" d="M614.5 403.3 L621.4 403.3 L621.4 408.5 L614.5 408.5 Z"/>
<path fill="#e05010" d="M635.1 403.3 L642.0 403.3 L642.0 408.5 L635.1 408.5 Z"/>
<path fill="#e05010" d="M532.2 407.9 L539.0 407.9 L539.0 413.1 L532.2 413.1 Z"/>
<path fill="#e05010" d="M552.8 407.9 L559.6 407.9 L559.6 413.1 L552.8 413.1 Z"/>
</g>
<defs><clipPath id="clipmap"><rect x="82.5" y="122.0" width="659.0" height="330.0"/></clipPath></defs>
<defs><clipPath id="czones"><rect x="103.0" y="176.0" width="112.0" height="34.0"/><rect x="277.0" y="199.0" width="46.0" height="17.0"/></clipPath></defs>
<path d="M82.50 122.00H85.93V124.29H82.50ZM738.07 122.00H741.50V124.29H738.07ZM216.36 133.46H367.38V138.04H216.36ZM456.62 133.46H587.05V138.04H456.62ZM188.90 138.04H374.24V142.62H188.90ZM429.16 138.04H607.64V142.62H429.16ZM175.17 142.62H374.24V147.21H175.17ZM429.16 142.62H607.64V147.21H429.16ZM168.31 147.21H374.24V151.79H168.31ZM429.16 147.21H662.56V151.79H429.16ZM669.42 147.21H696.88V151.79H669.42ZM113.39 151.79H127.12V156.38H113.39ZM168.31 151.79H374.24V156.38H168.31ZM422.30 151.79H724.34V156.38H422.30ZM106.53 156.38H367.38V160.96H106.53ZM429.16 156.38H724.34V160.96H429.16ZM82.50 160.96H99.66V165.54H82.50ZM113.39 160.96H353.65V165.54H113.39ZM422.30 160.96H741.50V165.54H422.30ZM99.66 165.54H106.53V170.12H99.66ZM113.39 165.54H346.79V170.12H113.39ZM374.24 165.54H387.97V170.12H374.24ZM422.30 165.54H738.07V170.12H422.30ZM99.66 170.12H106.53V174.71H99.66ZM113.39 170.12H339.92V174.71H113.39ZM422.30 170.12H738.07V174.71H422.30ZM106.53 174.71H319.33V179.29H106.53ZM326.19 174.71H333.06V179.29H326.19ZM422.30 174.71H717.47V179.29H422.30ZM154.58 179.29H319.33V183.88H154.58ZM401.70 179.29H408.57V183.88H401.70ZM422.30 179.29H676.29V183.88H422.30ZM696.88 179.29H710.61V183.88H696.88ZM161.44 183.88H319.33V188.46H161.44ZM401.70 183.88H415.43V188.46H401.70ZM422.30 183.88H669.42V188.46H422.30ZM696.88 183.88H710.61V188.46H696.88ZM161.44 188.46H326.19V193.04H161.44ZM408.57 188.46H669.42V193.04H408.57ZM696.88 188.46H703.74V193.04H696.88ZM175.17 193.04H319.33V197.62H175.17ZM408.57 193.04H669.42V197.62H408.57ZM182.04 197.62H319.33V202.21H182.04ZM408.57 197.62H669.42V202.21H408.57ZM182.04 202.21H291.87V206.79H182.04ZM305.60 202.21H312.46V206.79H305.60ZM408.57 202.21H463.48V206.79H408.57ZM484.08 202.21H497.81V206.79H484.08ZM504.67 202.21H662.56V206.79H504.67ZM669.42 202.21H676.29V206.79H669.42ZM182.04 206.79H285.01V211.38H182.04ZM394.84 206.79H415.43V211.38H394.84ZM436.03 206.79H463.48V211.38H436.03ZM490.94 206.79H497.81V211.38H490.94ZM504.67 206.79H655.69V211.38H504.67ZM669.42 206.79H676.29V211.38H669.42ZM182.04 211.38H278.14V215.96H182.04ZM394.84 211.38H408.57V215.96H394.84ZM449.76 211.38H504.67V215.96H449.76ZM511.54 211.38H648.83V215.96H511.54ZM669.42 211.38H676.29V215.96H669.42ZM188.90 215.96H271.28V220.54H188.90ZM394.84 215.96H401.70V220.54H394.84ZM463.48 215.96H504.67V220.54H463.48ZM511.54 215.96H635.10V220.54H511.54ZM641.96 215.96H648.83V220.54H641.96ZM662.56 215.96H669.42V220.54H662.56ZM188.90 220.54H271.28V225.12H188.90ZM401.70 220.54H436.03V225.12H401.70ZM477.21 220.54H635.10V225.12H477.21ZM641.96 220.54H648.83V225.12H641.96ZM655.69 220.54H669.42V225.12H655.69ZM195.77 225.12H264.41V229.71H195.77ZM394.84 225.12H436.03V229.71H394.84ZM477.21 225.12H635.10V229.71H477.21ZM202.63 229.71H264.41V234.29H202.63ZM394.84 229.71H497.81V234.29H394.84ZM504.67 229.71H635.10V234.29H504.67ZM209.49 234.29H236.95V238.88H209.49ZM257.55 234.29H264.41V238.88H257.55ZM387.97 234.29H497.81V238.88H387.97ZM511.54 234.29H635.10V238.88H511.54ZM216.36 238.88H236.95V243.46H216.36ZM381.11 238.88H518.40V243.46H381.11ZM538.99 238.88H628.23V243.46H538.99ZM216.36 243.46H236.95V248.04H216.36ZM381.11 243.46H477.21V248.04H381.11ZM484.08 243.46H518.40V248.04H484.08ZM538.99 243.46H621.37V248.04H538.99ZM216.36 248.04H236.95V252.62H216.36ZM243.82 248.04H250.68V252.62H243.82ZM278.14 248.04H285.01V252.62H278.14ZM381.11 248.04H477.21V252.62H381.11ZM484.08 248.04H518.40V252.62H484.08ZM545.86 248.04H573.32V252.62H545.86ZM580.18 248.04H607.64V252.62H580.18ZM223.22 252.62H250.68V257.21H223.22ZM381.11 252.62H484.08V257.21H381.11ZM490.94 252.62H511.54V257.21H490.94ZM545.86 252.62H566.45V257.21H545.86ZM587.05 252.62H607.64V257.21H587.05ZM236.95 257.21H257.55V261.79H236.95ZM381.11 257.21H484.08V261.79H381.11ZM490.94 257.21H504.67V261.79H490.94ZM552.72 257.21H559.59V261.79H552.72ZM593.91 257.21H614.51V261.79H593.91ZM628.23 257.21H635.10V261.79H628.23ZM243.82 261.79H257.55V266.38H243.82ZM381.11 261.79H490.94V266.38H381.11ZM552.72 261.79H559.59V266.38H552.72ZM593.91 261.79H614.51V266.38H593.91ZM628.23 261.79H641.96V266.38H628.23ZM250.68 266.38H264.41V270.96H250.68ZM271.28 266.38H305.60V270.96H271.28ZM387.97 266.38H504.67V270.96H387.97ZM552.72 266.38H559.59V270.96H552.72ZM593.91 266.38H607.64V270.96H593.91ZM635.10 266.38H641.96V270.96H635.10ZM264.41 270.96H312.46V275.54H264.41ZM394.84 270.96H497.81V275.54H394.84ZM593.91 270.96H600.78V275.54H593.91ZM271.28 275.54H319.33V280.12H271.28ZM394.84 275.54H408.57V280.12H394.84ZM422.30 275.54H497.81V280.12H422.30ZM593.91 275.54H600.78V280.12H593.91ZM621.37 275.54H628.23V280.12H621.37ZM264.41 280.12H319.33V284.71H264.41ZM429.16 280.12H490.94V284.71H429.16ZM600.78 280.12H607.64V284.71H600.78ZM614.51 280.12H628.23V284.71H614.51ZM264.41 284.71H326.19V289.29H264.41ZM429.16 284.71H490.94V289.29H429.16ZM600.78 284.71H607.64V289.29H600.78ZM614.51 284.71H628.23V289.29H614.51ZM264.41 289.29H339.92V293.88H264.41ZM429.16 289.29H484.08V293.88H429.16ZM593.91 289.29H607.64V293.88H593.91ZM614.51 289.29H628.23V293.88H614.51ZM662.56 289.29H669.42V293.88H662.56ZM264.41 293.88H346.79V298.46H264.41ZM436.03 293.88H484.08V298.46H436.03ZM593.91 293.88H607.64V298.46H593.91ZM662.56 293.88H676.29V298.46H662.56ZM264.41 298.46H346.79V303.04H264.41ZM436.03 298.46H484.08V303.04H436.03ZM662.56 298.46H676.29V303.04H662.56ZM271.28 303.04H346.79V307.62H271.28ZM436.03 303.04H484.08V307.62H436.03ZM662.56 303.04H669.42V307.62H662.56ZM271.28 307.62H339.92V312.21H271.28ZM436.03 307.62H484.08V312.21H436.03ZM662.56 307.62H669.42V312.21H662.56ZM278.14 312.21H339.92V316.79H278.14ZM436.03 312.21H484.08V316.79H436.03ZM497.81 312.21H504.67V316.79H497.81ZM641.96 312.21H669.42V316.79H641.96ZM285.01 316.79H339.92V321.38H285.01ZM436.03 316.79H484.08V321.38H436.03ZM497.81 316.79H504.67V321.38H497.81ZM635.10 316.79H676.29V321.38H635.10ZM285.01 321.38H339.92V325.96H285.01ZM436.03 321.38H477.21V325.96H436.03ZM497.81 321.38H504.67V325.96H497.81ZM635.10 321.38H683.15V325.96H635.10ZM285.01 325.96H333.06V330.54H285.01ZM436.03 325.96H477.21V330.54H436.03ZM490.94 325.96H497.81V330.54H490.94ZM621.37 325.96H690.02V330.54H621.37ZM285.01 330.54H333.06V335.12H285.01ZM436.03 330.54H477.21V335.12H436.03ZM490.94 330.54H497.81V335.12H490.94ZM621.37 330.54H690.02V335.12H621.37ZM285.01 335.12H326.19V339.71H285.01ZM442.89 335.12H470.35V339.71H442.89ZM621.37 335.12H690.02V339.71H621.37ZM278.14 339.71H326.19V344.29H278.14ZM442.89 339.71H470.35V344.29H442.89ZM621.37 339.71H690.02V344.29H621.37ZM278.14 344.29H319.33V348.88H278.14ZM442.89 344.29H463.48V348.88H442.89ZM621.37 344.29H641.96V348.88H621.37ZM662.56 344.29H690.02V348.88H662.56ZM278.14 348.88H312.46V353.46H278.14ZM669.42 348.88H690.02V353.46H669.42ZM278.14 353.46H305.60V358.04H278.14ZM669.42 353.46H683.15V358.04H669.42ZM278.14 358.04H298.73V362.62H278.14ZM676.29 358.04H683.15V362.62H676.29ZM731.20 358.04H738.07V362.62H731.20ZM278.14 362.62H298.73V367.21H278.14ZM724.34 362.62H731.20V367.21H724.34ZM278.14 367.21H291.87V371.79H278.14ZM717.47 367.21H724.34V371.79H717.47ZM278.14 371.79H291.87V376.38H278.14ZM278.14 376.38H291.87V380.96H278.14ZM285.01 380.96H291.87V385.54H285.01ZM285.01 385.54H291.87V390.12H285.01ZM285.01 403.88H305.60V408.46H285.01ZM580.18 403.88H600.78V408.46H580.18ZM607.64 403.88H614.51V408.46H607.64ZM621.37 403.88H635.10V408.46H621.37ZM641.96 403.88H655.69V408.46H641.96ZM278.14 408.46H298.73V413.04H278.14ZM490.94 408.46H532.13V413.04H490.94ZM538.99 408.46H552.72V413.04H538.99ZM559.59 408.46H696.88V413.04H559.59ZM250.68 413.04H305.60V417.62H250.68ZM429.16 413.04H442.89V417.62H429.16ZM463.48 413.04H710.61V417.62H463.48ZM188.90 417.62H333.06V422.21H188.90ZM387.97 417.62H724.34V422.21H387.97ZM154.58 422.21H346.79V426.79H154.58ZM367.38 422.21H724.34V426.79H367.38ZM82.50 426.79H741.50V431.38H82.50ZM82.50 431.38H741.50V435.96H82.50ZM82.50 435.96H741.50V440.54H82.50ZM82.50 440.54H741.50V445.12H82.50ZM82.50 445.12H741.50V449.71H82.50ZM82.50 449.71H741.50V452.00H82.50Z" fill="none" stroke="#6010e0" stroke-width="3.2" clip-path="url(#czones)"/>
<path id="land" fill="#a8a8a8" shape-rendering="crispEdges" d="M82.50 122.00H85.93V124.29H82.50ZM738.07 122.00H741.50V124.29H738.07ZM216.36 133.46H367.38V138.04H216.36ZM456.62 133.46H587.05V138.04H456.62ZM188.90 138.04H374.24V142.62H188.90ZM429.16 138.04H607.64V142.62H429.16ZM175.17 142.62H374.24V147.21H175.17ZM429.16 142.62H607.64V147.21H429.16ZM168.31 147.21H374.24V151.79H168.31ZM429.16 147.21H662.56V151.79H429.16ZM669.42 147.21H696.88V151.79H669.42ZM113.39 151.79H127.12V156.38H113.39ZM168.31 151.79H374.24V156.38H168.31ZM422.30 151.79H724.34V156.38H422.30ZM106.53 156.38H367.38V160.96H106.53ZM429.16 156.38H724.34V160.96H429.16ZM82.50 160.96H99.66V165.54H82.50ZM113.39 160.96H353.65V165.54H113.39ZM422.30 160.96H741.50V165.54H422.30ZM99.66 165.54H106.53V170.12H99.66ZM113.39 165.54H346.79V170.12H113.39ZM374.24 165.54H387.97V170.12H374.24ZM422.30 165.54H738.07V170.12H422.30ZM99.66 170.12H106.53V174.71H99.66ZM113.39 170.12H339.92V174.71H113.39ZM422.30 170.12H738.07V174.71H422.30ZM106.53 174.71H319.33V179.29H106.53ZM326.19 174.71H333.06V179.29H326.19ZM422.30 174.71H717.47V179.29H422.30ZM154.58 179.29H319.33V183.88H154.58ZM401.70 179.29H408.57V183.88H401.70ZM422.30 179.29H676.29V183.88H422.30ZM696.88 179.29H710.61V183.88H696.88ZM161.44 183.88H319.33V188.46H161.44ZM401.70 183.88H415.43V188.46H401.70ZM422.30 183.88H669.42V188.46H422.30ZM696.88 183.88H710.61V188.46H696.88ZM161.44 188.46H326.19V193.04H161.44ZM408.57 188.46H669.42V193.04H408.57ZM696.88 188.46H703.74V193.04H696.88ZM175.17 193.04H319.33V197.62H175.17ZM408.57 193.04H669.42V197.62H408.57ZM182.04 197.62H319.33V202.21H182.04ZM408.57 197.62H669.42V202.21H408.57ZM182.04 202.21H291.87V206.79H182.04ZM305.60 202.21H312.46V206.79H305.60ZM408.57 202.21H463.48V206.79H408.57ZM484.08 202.21H497.81V206.79H484.08ZM504.67 202.21H662.56V206.79H504.67ZM669.42 202.21H676.29V206.79H669.42ZM182.04 206.79H285.01V211.38H182.04ZM394.84 206.79H415.43V211.38H394.84ZM436.03 206.79H463.48V211.38H436.03ZM490.94 206.79H497.81V211.38H490.94ZM504.67 206.79H655.69V211.38H504.67ZM669.42 206.79H676.29V211.38H669.42ZM182.04 211.38H278.14V215.96H182.04ZM394.84 211.38H408.57V215.96H394.84ZM449.76 211.38H504.67V215.96H449.76ZM511.54 211.38H648.83V215.96H511.54ZM669.42 211.38H676.29V215.96H669.42ZM188.90 215.96H271.28V220.54H188.90ZM394.84 215.96H401.70V220.54H394.84ZM463.48 215.96H504.67V220.54H463.48ZM511.54 215.96H635.10V220.54H511.54ZM641.96 215.96H648.83V220.54H641.96ZM662.56 215.96H669.42V220.54H662.56ZM188.90 220.54H271.28V225.12H188.90ZM401.70 220.54H436.03V225.12H401.70ZM477.21 220.54H635.10V225.12H477.21ZM641.96 220.54H648.83V225.12H641.96ZM655.69 220.54H669.42V225.12H655.69ZM195.77 225.12H264.41V229.71H195.77ZM394.84 225.12H436.03V229.71H394.84ZM477.21 225.12H635.10V229.71H477.21ZM202.63 229.71H264.41V234.29H202.63ZM394.84 229.71H497.81V234.29H394.84ZM504.67 229.71H635.10V234.29H504.67ZM209.49 234.29H236.95V238.88H209.49ZM257.55 234.29H264.41V238.88H257.55ZM387.97 234.29H497.81V238.88H387.97ZM511.54 234.29H635.10V238.88H511.54ZM216.36 238.88H236.95V243.46H216.36ZM381.11 238.88H518.40V243.46H381.11ZM538.99 238.88H628.23V243.46H538.99ZM216.36 243.46H236.95V248.04H216.36ZM381.11 243.46H477.21V248.04H381.11ZM484.08 243.46H518.40V248.04H484.08ZM538.99 243.46H621.37V248.04H538.99ZM216.36 248.04H236.95V252.62H216.36ZM243.82 248.04H250.68V252.62H243.82ZM278.14 248.04H285.01V252.62H278.14ZM381.11 248.04H477.21V252.62H381.11ZM484.08 248.04H518.40V252.62H484.08ZM545.86 248.04H573.32V252.62H545.86ZM580.18 248.04H607.64V252.62H580.18ZM223.22 252.62H250.68V257.21H223.22ZM381.11 252.62H484.08V257.21H381.11ZM490.94 252.62H511.54V257.21H490.94ZM545.86 252.62H566.45V257.21H545.86ZM587.05 252.62H607.64V257.21H587.05ZM236.95 257.21H257.55V261.79H236.95ZM381.11 257.21H484.08V261.79H381.11ZM490.94 257.21H504.67V261.79H490.94ZM552.72 257.21H559.59V261.79H552.72ZM593.91 257.21H614.51V261.79H593.91ZM628.23 257.21H635.10V261.79H628.23ZM243.82 261.79H257.55V266.38H243.82ZM381.11 261.79H490.94V266.38H381.11ZM552.72 261.79H559.59V266.38H552.72ZM593.91 261.79H614.51V266.38H593.91ZM628.23 261.79H641.96V266.38H628.23ZM250.68 266.38H264.41V270.96H250.68ZM271.28 266.38H305.60V270.96H271.28ZM387.97 266.38H504.67V270.96H387.97ZM552.72 266.38H559.59V270.96H552.72ZM593.91 266.38H607.64V270.96H593.91ZM635.10 266.38H641.96V270.96H635.10ZM264.41 270.96H312.46V275.54H264.41ZM394.84 270.96H497.81V275.54H394.84ZM593.91 270.96H600.78V275.54H593.91ZM271.28 275.54H319.33V280.12H271.28ZM394.84 275.54H408.57V280.12H394.84ZM422.30 275.54H497.81V280.12H422.30ZM593.91 275.54H600.78V280.12H593.91ZM621.37 275.54H628.23V280.12H621.37ZM264.41 280.12H319.33V284.71H264.41ZM429.16 280.12H490.94V284.71H429.16ZM600.78 280.12H607.64V284.71H600.78ZM614.51 280.12H628.23V284.71H614.51ZM264.41 284.71H326.19V289.29H264.41ZM429.16 284.71H490.94V289.29H429.16ZM600.78 284.71H607.64V289.29H600.78ZM614.51 284.71H628.23V289.29H614.51ZM264.41 289.29H339.92V293.88H264.41ZM429.16 289.29H484.08V293.88H429.16ZM593.91 289.29H607.64V293.88H593.91ZM614.51 289.29H628.23V293.88H614.51ZM662.56 289.29H669.42V293.88H662.56ZM264.41 293.88H346.79V298.46H264.41ZM436.03 293.88H484.08V298.46H436.03ZM593.91 293.88H607.64V298.46H593.91ZM662.56 293.88H676.29V298.46H662.56ZM264.41 298.46H346.79V303.04H264.41ZM436.03 298.46H484.08V303.04H436.03ZM662.56 298.46H676.29V303.04H662.56ZM271.28 303.04H346.79V307.62H271.28ZM436.03 303.04H484.08V307.62H436.03ZM662.56 303.04H669.42V307.62H662.56ZM271.28 307.62H339.92V312.21H271.28ZM436.03 307.62H484.08V312.21H436.03ZM662.56 307.62H669.42V312.21H662.56ZM278.14 312.21H339.92V316.79H278.14ZM436.03 312.21H484.08V316.79H436.03ZM497.81 312.21H504.67V316.79H497.81ZM641.96 312.21H669.42V316.79H641.96ZM285.01 316.79H339.92V321.38H285.01ZM436.03 316.79H484.08V321.38H436.03ZM497.81 316.79H504.67V321.38H497.81ZM635.10 316.79H676.29V321.38H635.10ZM285.01 321.38H339.92V325.96H285.01ZM436.03 321.38H477.21V325.96H436.03ZM497.81 321.38H504.67V325.96H497.81ZM635.10 321.38H683.15V325.96H635.10ZM285.01 325.96H333.06V330.54H285.01ZM436.03 325.96H477.21V330.54H436.03ZM490.94 325.96H497.81V330.54H490.94ZM621.37 325.96H690.02V330.54H621.37ZM285.01 330.54H333.06V335.12H285.01ZM436.03 330.54H477.21V335.12H436.03ZM490.94 330.54H497.81V335.12H490.94ZM621.37 330.54H690.02V335.12H621.37ZM285.01 335.12H326.19V339.71H285.01ZM442.89 335.12H470.35V339.71H442.89ZM621.37 335.12H690.02V339.71H621.37ZM278.14 339.71H326.19V344.29H278.14ZM442.89 339.71H470.35V344.29H442.89ZM621.37 339.71H690.02V344.29H621.37ZM278.14 344.29H319.33V348.88H278.14ZM442.89 344.29H463.48V348.88H442.89ZM621.37 344.29H641.96V348.88H621.37ZM662.56 344.29H690.02V348.88H662.56ZM278.14 348.88H312.46V353.46H278.14ZM669.42 348.88H690.02V353.46H669.42ZM278.14 353.46H305.60V358.04H278.14ZM669.42 353.46H683.15V358.04H669.42ZM278.14 358.04H298.73V362.62H278.14ZM676.29 358.04H683.15V362.62H676.29ZM731.20 358.04H738.07V362.62H731.20ZM278.14 362.62H298.73V367.21H278.14ZM724.34 362.62H731.20V367.21H724.34ZM278.14 367.21H291.87V371.79H278.14ZM717.47 367.21H724.34V371.79H717.47ZM278.14 371.79H291.87V376.38H278.14ZM278.14 376.38H291.87V380.96H278.14ZM285.01 380.96H291.87V385.54H285.01ZM285.01 385.54H291.87V390.12H285.01ZM285.01 403.88H305.60V408.46H285.01ZM580.18 403.88H600.78V408.46H580.18ZM607.64 403.88H614.51V408.46H607.64ZM621.37 403.88H635.10V408.46H621.37ZM641.96 403.88H655.69V408.46H641.96ZM278.14 408.46H298.73V413.04H278.14ZM490.94 408.46H532.13V413.04H490.94ZM538.99 408.46H552.72V413.04H538.99ZM559.59 408.46H696.88V413.04H559.59ZM250.68 413.04H305.60V417.62H250.68ZM429.16 413.04H442.89V417.62H429.16ZM463.48 413.04H710.61V417.62H463.48ZM188.90 417.62H333.06V422.21H188.90ZM387.97 417.62H724.34V422.21H387.97ZM154.58 422.21H346.79V426.79H154.58ZM367.38 422.21H724.34V426.79H367.38ZM82.50 426.79H741.50V431.38H82.50ZM82.50 431.38H741.50V435.96H82.50ZM82.50 435.96H741.50V440.54H82.50ZM82.50 440.54H741.50V445.12H82.50ZM82.50 445.12H741.50V449.71H82.50ZM82.50 449.71H741.50V452.00H82.50Z"/>
<g id="coast" fill="none" stroke="#000" stroke-width="1.25" stroke-linejoin="round" stroke-linecap="round" clip-path="url(#clipmap)">
<path d="M125.5 156.3l-1.7 0.7 -1.9 0.2 -1.8 0.9 -1.9 -0.2 -1.9 0.2 -1.8 0.6 -1.8 1.4 -1.2 0.8 -1.1 0.8 -1.4 0 -1.4 -0.3 2.4 0.9 1.3 0.3 0.9 1.2 1.6 0.2 1.6 0.2 1 1.1 -1.9 0.5 -1.8 -0.9 -2.4 0.2 -1.5 0.5 -1.6 0.4 -1.2 0.9 -1.5 -0.2 1.6 0.4 1.1 1.3 1.9 0 1.8 0.4 1.8 0.5 1.8 -0.5 1.3 -0.8 1.5 0.2 0.3 1.8 -2.2 0.8 -2.1 0.9 -2.4 -0.2 -1.5 1.8 -1.3 0.8 1.3 1.4 1.1 0.9 1.3 0.6 1.3 0.6 1.4 -0.4 1.3 2 1.7 0.1 1.6 -0.1 2.2 0 1.4 0 1.4 0.2 -0.4 2 -1.5 0.2 -0.9 1.3 -1.3 1.3 -1.8 0.1 -1.6 0.2 -1.2 1.1 -1.3 0.6 -1.4 0.1 -2.4 0.8 1.6 -0.8 1.7 0.2 1.3 -0.7 1.5 0.2 1.7 -0.9 1.9 -0.2 1.6 -0.3 1.2 -1 1.3 -1.2 1.8 -0.3 1.7 -0.6 1.6 -0.8 1.8 -1.9 1.8 -1.8 1.3 -0.8 1.1 -1 2.2 -0.4 -1.8 1.8 -1.5 1.7 1.6 -0.5 1.7 -0.1 1.4 -0.3 1.4 -0.4 1.8 -1.8 1.4 -0.4 1.3 0.7 1.6 0.1 1.2 1 2.3 -0.4 2.3 0.8 1.7 0.6 1.9 -0.1 1.4 0.4 1.4 0.6 1.4 0.4 1.3 0.9 2.2 0.3 0.9 2 1.2 0.8 1.2 0.5 1.4 0.8 1.4 0.9 1.8 1.1 2.2 1.1 1.4 2 1.3 0.8 0.9 1.2 1 1.6 1.4 1.3 1.3 0.8 1.5 0.1 1.2 0.8 1.5 0.3 1.5 0.8 1.3 1.4 -0.6 1.9 -0.7 -1.5 -1.5 0.1 -1.3 -0.6 0.5 1.4 0.6 1.3 0.2 1.3 0 2.6 -0.3 1.3 -0.2 1.4 -0.2 2.4 -0.3 1.4 0.6 1.4 0.8 2.1 1.4 2.1 1 0.9 0.9 1.4 0.2 1.1 0.8 1.3 1.2 0.8 0.3 1.3 1.6 0 1.4 0.7 1.2 0.5 1.9 1.9 0.1 1.4 1.2 0.9 1.1 1 0.3 1.4 1 1.1 0.9 1.1 1.2 1.9 -1.4 0.5 2 1.5 1.8 1.6 1.3 2.2 2 1.5 0.7 1.2 1.1 0.8 1 -0.7 -1.5 -1.9 -1.1 -1.6 -1 -1 -0.3 -1.4 -0.8 -1.1 -0.8 -1.1 -1.3 -0.9 -0.2 -1.5 -0.9 -1.3 -1.3 -1.1 0 -1.3 -0.5 -1.2 1.3 0.4 1.4 0.3 0.2 1.4 1.1 1 1.1 1.8 1.2 0.9 1 1.1 0.8 1.2 1.2 0.9 1 1.3 1.2 1.2 1.1 1.2 1.3 1 1.6 1.9 0.8 1 0.7 1.2 -0.3 1.4 0.5 1.3 1.1 2.2 0.8 1.3 1.5 0.4 1.6 0.5 1.5 0.6 1.6 1 1.7 0.6 1.8 0.1 1.4 1.2 1.5 0.8 1.8 0.1 1.4 -0.2 1.3 -0.5 1.8 0 0.7 1.5 1.5 0.5 1 1.3 1.4 0.5 1.4 0.1 1.3 0.7 1.5 0.2 1.3 0.5 1.5 0.4 1.2 0.9 1.9 1.8 0.5 1.3 0.4 1.7 1.5 0.5 1.6 1.1 1.1 1.3 1.6 0.2 1.5 1.1 1.8 0.5 0.6 -1.6 1.1 -1.3 1.6 0.3 1 1.3 0.7 1.5M270.5 271.2l-1.3 -1.3 -1.3 -0.4 -1.4 -0.1 -1 1 -1.4 0.1 -1.8 0 -1.9 -1.1 -1.3 -2.2 -0.5 -2.2 0.2 -1.4 0.3 -1.4 -0.2 -1.4 0.6 -1.3 -1.3 -0.4 -0.9 -1.1 -1.4 0.5 -1.3 -0.6 -1.4 -0.3 -1.4 0.4 -2 0 0.6 -1.4 0.1 -2.6 0.1 -1.6 1 -1.2 0.8 -1.8 0.7 -1.6 -2.2 -0.4 -1.3 0.6 -1.4 -0.1 -1.7 1 -0.3 2.2 -1.7 1.8 -2.4 0.2 -1.3 0.4 -1.4 0.1 -1.2 -0.8 -1.4 -0.1 -1.3 -1.6 -1.1 -0.9 -0.3 -1.3 -0.9 -2.2 -0.2 -1.4 0 -1.4 0.4 -1.3 0.3 -1.4 0.7 -1.3 -0.3 -1.5 -0.2 -2.2 1.8 -1.4 1.4 -0.4 1 -0.9 2.2 -0.9 1.3 0.5 1.4 -0.4 2.4 0.8 1.8 0.1 1.5 0 -0.7 -1.8 2 -0.4 1.4 -0.3 1.3 0.2 2.2 0.3 1.1 1 1.9 -0.8 1.6 1.1 1.1 1.9 0 1.6 1.3 2 0.9 1.3 0.9 1.1 1.1 0 0.6 -1.5 0 -1.8 -0.6 -1.2 -0.3 -1.4 -1.1 -2.2 -0.4 -1.8 0.5 -2.2 1.7 -1.3 1.6 -1.3 2.1 -1.3 1.8 -1 1.4 -0.6 1.7 -0.9 -0.7 -2.2 -0.8 -0.9 -0.1 -1.4 0.1 -1.4 0.4 2.4 0.9 -1.1 0.9 -1.5 -0.5 -1.3 1.6 0 0.9 -1.4 0 -0.9 1.9 -0.4 1.8 -0.4 1.3 -0.9 1.8 -0.2 0.6 -0.7 -1.3 -0.4 -0.2 -1.3 1.1 -1.2 1.6 -0.8 2.1 -0.7 2.2 -0.7 1.8 -0.8 2.2 -0.7 0.7 0.5 -1.5 0.3 -1.1 1 -0.7 1.7 1.7 0.2 2 -1.5 2.2 -0.5 1.5 0 1.2 -1 2.2 -1.1 0.6 -1.4 -1.5 -0.8 -1.3 2 -2.4 0.2 -2.2 -0.5 -1.4 -1.7 -0.8 -1.4 1.3 -0.8 0.4 -1.3 -2.2 -0.5 -1.3 0.7 -1.4 -0.2 -1.3 1 -1.5 0.1 -1.1 1.4 -1.6 0.7 -1.9 0.7 1.9 -1.6 1.8 -1.7 1.2 -1.1 1.5 -0.4 1.1 -0.7 1.1 -0.7 2.1 0 2.1 -0.2 1.9 -0.3 1.8 0.5 1.8 -0.9 1.9 0.7 1.1 -0.9 1.2 -0.8 1.6 -0.5 1.6 -0.2 2.2 -1.3 -0.4 -2.2 -1.3 -0.7 -1.5 -0.6 -1 -1.2 -1.7 -0.2 -1.3 -1 -1.4 -0.5 -1.9 -1.8 -0.9 -1.9 -1.8 -1.8 -1.2 -1.3 -1.2 -1.3 -1.8 1.1 -1.3 1.5 -1.4 0.3 -1.4 0.6 -1.3 -0.7 -1.4 -0.2 -1.5 -1.8 0.6 -2.1 -1.5 0.3 -1.3 -0.8 -1.1 -1.1 -1.6 -0.2 -1.8 -0.8 -1.9 0.1 -1.8 -0.7 -1.8 0.5 -1.4 -0.4 -1.4 0.4 0.7 2 -0.7 2.4 0.9 2.2 0.9 1.1 0.6 1.3 0.2 2.4 -1.2 1 -1.4 0.8 -1.2 1 -1.5 0.1 0.9 2 0.5 2.2 -1.4 1.7 -1.9 0.1 -1 -1 -1.3 -0.8 -0.8 -1.8 -0.7 -1.5 0.5 -1.6 -1.6 0.3 -1.5 -0.9 -1.9 0 -1.7 -0.9 -2 -0.1 -1.7 -1.2 -1.9 -0.2 -1.8 -0.7 -1.9 0.5 -1.7 -0.9 -1.5 -1.8 -1.8 0.1 -1.3 -1.2 -0.4 -2.2 1.3 -1.8 0.8 -1.3 1.4 -0.6 1.4 -1.5 1.9 -0.3 1.3 -1.5 1.6 -0.3 1.7 0 2.2 -1.1 0.3 -1.4 1.2 -0.8 -1.4 -0.7 -1.4 0.3 1.9 -0.2 1.8 -0.5 1.8 -0.6 1.8 0.6 1.3 -0.7 1.5 -0.1 1 -1 1.2 -0.8 -0.4 -2.2 -1.4 -0.5 -1.3 -0.8 -2.2 0.6 -2 -0.8 -1.6 1.2 -0.6 1.8 -1.7 0.1 -1.1 1.3 -1.4 -1.2 -1.3 -1.3 2.3 -0.8 -2.1 -0.2 -2.1 -0.3 -1.7 -0.6 -1 -1.6 -1.7 -0.5 -1.1 -1.4 -1.4 0.1 -1.3 -0.4 -0.5 1.2 -1 1 -1.2 2.2 1.5 1.4 2.1 0.4 -1.2 1.1 -1.5 0.2 -1.9 0.8 -1.8 -0.8 -1.4 -0.5 -1.3 0.5 -1.9 -0.2 -1.8 -0.2 -2.3 0.7 -2.3 -0.7 -1.8 -0.4 -1.8 -0.3 -1.6 1.5 -2.1 0 -0.9 1.4 1.8 -1.3 -1.8 -0.4 -1.8 -0.3 -2.4 -0.9 -2.2 1.1 -1.8 -0.7 -1.9 0.5 -1.3 -0.8 -1.4 -0.3 1.8 -0.9 -2.3 0.5 -2.3 -0.5 -2.3 -0.1 -2.3 -0.6 -2.3 0.3 -2.2 -1.1 -2.3 -0.7 -2.3 0.4 -1.8 0.1 -1.9 0.2 -1.2 -0.8 -1.5 -0.1 -1.8 0.6 -1.9 0 -2.2 0.9 -2.3 -0.2 -1.9 -0.4 -1.8 0.6 -1.6 -0.1 -1.2 1.2 -1.7 -0.8 -1.9 0.4 -1.7 -0.9 -2 0 -2.2 -1 -2.4 0.3 -2.2 -0.5 -2.3 0.5 -2.4 0.2 -2.2 -0.8 -2.3 -0.2 -2.3 -0.1 -2.3 0 -2.3 -0.6 -1.9 0.6 -1.7 -1 -2 0.5 -1.7 -1M293.9 170.6l-3.6 2.7 -2.8 -0.5 3.7 -1.3 -3.7 -1.5 -5.5 1.7 -3.6 -1.7 -3.7 -1.1 -4.6 0.2 -0.9 -1.6 5.5 -0.2 2.8 -0.4 -1 -1.8 1.9 -1.5 -0.9 -1.6 -3.7 -0.2 -2.8 -1.3 -3.6 -1.8 -4.6 0 -5.5 0 -4.6 -0.6 -4.5 -1.3 0 -2.2 2.7 -2.4 5.5 -0.3 5.5 0 2.7 1.6 4.6 0 3.7 0.4 4.6 1.8 4.5 1.1 4.6 1.5 2.8 1.8 -2.8 1.3 4.6 0.9 4.6 1.9 3.6 0.5 -1.8 1.8 -2.8 1.3 -2.7 0.8 1.8 2M219.8 160.5l5.5 0.2 0.9 -1.7 -1.8 -1.8 -3.7 -0.7 -0.9 -2.4 -4.6 -1.3 -4.6 0.5 -6.4 0.2 -6.4 0 -2.7 1.5 0.9 1.3 3.7 0 -2.8 1.3 4.6 0.2 3.6 1 -6.4 0.6 0 1.1 5.5 0.7 6.4 -0.2 4.6 -0.5 4.6 0M186.8 156.5l-4.5 -1.3 0 -2 2.7 -2.4 4.6 -0.4 5.5 0.6 4.6 1.2 -3.7 1.9 -4.6 1.8 -4.6 0.6M267.4 147.3l-5.5 -0.4 -6.4 0 -6.4 -0.1 -0.9 -1.9 4.5 -1.3 3.7 -1.4 -2.7 -1.9 6.4 -0.9 -5.5 -0.9 -9.2 -0.9 3.7 -1.3 12.8 -1.3 12.8 -0.3 12.8 0.1 9.2 1 1.8 1.2 -7.3 1.5 -3.7 1.5 -7.3 1.2 -5.5 1 -1.8 1.8 -3.7 1.3 -1.8 2M265.6 150.2l-7.4 0.2 -7.3 0 -6.4 -0.4 -0.9 -2.3 5.5 -0.6 7.3 1.1 7.3 -0.2 2.8 0.9 -0.9 1.3M251.8 143.4l-6.4 0.2 -5.5 -2 -2.7 -2.2 5.5 -1.3 4.5 1.5 4.6 1.6 0 2.2M218.0 149.5l-7.4 0.9 -7.3 -0.4 -5.5 -0.9 1.9 -2 7.3 0.2 5.5 -0.9 5.5 1.3 0 1.8M233.5 149.5l-5.5 0 -3.6 -1.5 2.7 -1.4 5.5 0.2 0.9 2.7M234.4 155.4l-4.5 0.5 -4.6 -1.8 1.8 -2.2 5.5 -0.2 2.8 1.8 -1 1.9M246.3 153.5l-5.5 0.9 -3.6 -1.2 0 -1.9 5.5 -0.1 3.6 0.7 0 1.6M237.2 160.9l-4.6 0.3 -2.7 -1.1 3.6 -1.3 3.7 1 0 1.1M264.6 170.0l-4.5 0.4 -4.6 0.7 -2.8 -1.1 1.9 -2.2 2.7 -1.4 4.6 1.4 2.7 1.1 0 1.1M200.6 147.1l-6.4 0.9 -6.4 -0.9 4.5 -1.6 6.4 -0.2 1.9 1.8M272.0 153.2l-4.6 0.3 -3.7 -1.3 4.6 -0.5 3.7 1.5M303.4 199.7l3.3 0 3.2 1.1 3.2 0.6 1.9 0 0.5 -1.7 -1.4 -1.8 -1 -1.5 -2.7 -0.3 -0.9 -1.1 0.9 -2.4 -2.4 0.5 -1.3 1.7 -1.4 2 -1.3 1.6 -0.6 1.3M293.9 195.7l2.8 0.9 2.4 0.4 -1.5 -1.1 -3.7 -0.2M294.3 201.4l2.4 0.9 1.8 -0.4 -1.8 -0.3 -2.4 -0.2M177.1 193.9l2.4 1.4 2.8 1.9 2.7 1.1 1.1 -0.2 -2 -1.9 -2.8 -1.4 -4.2 -0.9M168.5 187.8l1.9 1.7 1.4 1.8 -1.1 -2 0 -1.3 -2.2 -0.2M129.2 182.5l2.2 -0.2 1.8 -1.3 -0.9 -0.7 -2.2 0.7 -0.9 1.5M97.7 170.8l3.1 0.3 2.2 -0.2 -2.2 -0.7 -3.1 0.6M105.7 177.0l2.4 0.4 0.6 -1 -2 -0.1 -1 0.7M107.2 188.2l-1.8 0.9 -1.3 0.7 -1.5 0.2M99.9 190.4l-1.3 0.6 -1.5 0.1 -1.8 -0.1 -1.8 0.5M90.7 191.7l-1.4 -0.4 -1.3 0.7 -1.4 0.3 -1.4 0.1M243.6 201.2l3.6 0.2 3.7 -0.6 2.8 1 3.1 -0.2 -0.4 -2.2 -2.7 -1.7 -3.7 0.4 -2.8 1.1 -3.6 2M251.3 210.0l2.4 0 0.3 -3.3 2 -3.1 0.8 -0.6 -3.1 0 -2.4 2.4 0 4.6M257.3 202.8l1.8 1.7 0 1.8 1.9 1.7 1.4 -0.8 0.8 -2.3 2.4 0.3 -1.5 -2.2 -3.1 -0.5 -3.7 0.3M259.3 210.4l3.5 0.3 4.6 -2 -2.8 0.2 -3.6 0.7 -1.7 0.8M266.1 207.6l3.1 0 3.1 -0.7 -1.3 -0.8 -3.6 0.6 -1.3 0.9M231.1 188.4l3.3 6 1 -1.8 -2.4 -4.2 -1.9 0M197.8 175.2l4.6 0 4.6 -2.2 4.6 -1.1 -3.7 -0.2 -4.6 1.3 -4.6 1.1 -0.9 1.1M186.8 167.5l5.5 0.3 2.8 -2.4 -2.8 -1.2 -4.5 1.2 -1 2.1M256.6 246.8l3.1 -1.8 3.1 -0.3 3.7 0.7 3.6 1.6 3.7 1.9 2.4 1.1 -2.4 0.5 -3.7 0 -0.5 -1.3 -2.2 -1.6 -3.7 -1.1 -2.7 -0.7 -2.4 0.7 -2 0.3M275.8 253.3l2.9 0.3 2.4 0.8 2.8 -1 2.7 0 -0.9 -1.6 -2.8 -1.1 -2.7 -0.2 -2.4 0.2 1.5 1.5 -3.5 1.1M268.7 253.4l2.3 0.8 1.5 -0.2 -1.5 -0.9 -2.3 0.3M289.0 253.6l2.7 0.2 -0.2 -0.7 -2.5 0.2 0 0.3M268.3 238.2l1.8 -0.1 0.6 1.2M269.2 241.2l0.4 1.4 0.7 0.8M298.9 268.5l1.4 0 0 -1.3 -1.4 0.2 0 1.1M332.4 177.2l-3.7 -0.8 -4.6 -1.1 -2.7 -2 -1.8 -2.7 -2.8 -1.8 -0.9 -2.8 -2.4 -2.2 1.5 -2.4 3.6 -1.5 -1.8 -1.2 -4.6 -1.1 -0.5 -2.6 -2.2 -2.8 -2.8 -2.7 -4.5 -1.8 -5.5 -0.4 -6.4 0.4 -5.5 -0.9 -2.8 -1.3 1.9 -1.5 -4.6 -0.6 8.2 -1.6 3.7 -1.5 3.6 -1.8 7.4 -1.5 9.1 -0.9 9.2 0 9.1 -0.9 9.2 -1.1 12.8 -0.4 11 0.8 9.1 1.6 -7.3 1.3 16.5 0 8.2 0.6 -4.6 1.8 -6.4 0.5 1.9 1.9 -3.7 1.8 0 2.2 -3.7 1.1 3.7 1.6 -1.8 1.5 -3.7 1.8 -3.6 1.3 3.6 1.1 -3.6 1.9 4.5 1.3 -3.6 0.7 -4.6 -0.4 5.5 1.1 -4.6 1.8 -5.5 0.8 -5.5 0.5 -2.7 2.2 -4.6 1.7 -4.6 0.5 -2.7 1.1 -1.5 2.2 -2.2 2.4 -1.4 2.4 -1.3 2.4M311.7 159.8l3.3 0.1 0.9 -1.2 -3.1 -0.6 -1.1 1.7M370.8 169.8l3.7 0.8 3.6 0.2 4.6 -1.1 2.8 -0.9 1.4 -1.5 -2.4 -1.7 -2.7 -0.3 -2.7 0.5 -4.3 0.2 -2.2 0.9 -2.7 -1.5 -2.4 1.3 4.2 1.1 -3.6 0.4 3.6 0.7 -0.9 0.9M220.7 143.4l4.6 1 4.6 -0.8 -1.9 -1.4 -5.5 -0.6 -1.8 1.8M233.5 144.2l3.7 0.2 -0.9 -1.7 -2.8 0 0 1.5M204.2 145.1l5.5 0.2 0.9 -1.3 -4.5 -0.6 -1.9 1.7M204.2 143.3l5.5 0.1 0.9 -0.9 -4.5 -0.2 -1.9 1M235.4 149.9l4.5 0.1 0.9 -1.2 -3.6 -0.4 -1.8 1.5M193.2 148.6l3.7 0.2 -0.5 -1.1 -3.2 0.9M217.0 152.8l3.7 0.4 -0.9 -1.3 -2.8 0.9M270.1 163.6l3.7 0.2 0 -1.5 -2.8 0 -0.9 1.3M259.7 172.2l2.6 0.6 1.4 -0.9 -2.7 -0.4 -1.3 0.7M265.0 173.7l1.5 0.4 0 -1.3 -1.5 0.9M261.9 189.8l1.8 0.4 0.6 -0.7 -2.4 0.3M265.6 184.3l1.8 -0.3 -0.9 -1.1M292.1 174.2l1.5 0.4 -0.6 -0.9 -0.9 0.5M286.6 164.7l1.2 1 1.6 -0.1 1.2 1 1.5 -0.2 -1.9 -0.6 -1.8 0.9 1.9 1.3M280.2 157.8l1.8 1.2 1.4 0.1 1.4 0.5 -1.9 1.3M258.2 154.1l-1.1 1.2 -1.6 0.6 1.8 1.3 -1.3 0.6 -1.4 0M256.4 142.2l1.8 -0.7 1.9 0.3 1.8 0.6 1.8 0.3 1.8 0.9 2 -0.3 1.7 -0.6 1.8 -0.5 -1.2 -0.8 -1.4 -0.1 -1.5 0.4 -1.3 -0.6 -1.8 -0.9 -1.9 0.4 -1.9 -0.3 -1.8 0.6M254.6 138.5l2.3 0.3 2.2 0.4 2.3 -0.8 2.3 0.5 2.4 -0.2 2.3 0.4 2.3 0.1 2.2 -1.1 1.8 0.5 1.8 0.8 1.8 -0.6 1.9 -0.3 1.6 1.4 2.1 -0.1M260.1 146.6l1.5 -0.4 1.2 -0.9 1.3 -0.8 1.5 0.1 1.5 0 1.2 0.9M240.8 141.2l2.4 0.8 2.2 -0.9 1.5 0 1.3 -0.8M249.1 148.6l1.5 0.1 1.3 -0.7 1.1 1 1.6 -0.1 1.9 -0.2 1.7 -0.9M253.7 162.0l1.7 -0.8 1.9 -0.3 1.9 -0.4 1.8 -0.6M360.7 157.8l1.7 -1.1 2 0.1 1.8 -1.1 -2.4 0.6 -2.1 -1.3 2.4 0.5 2.1 -1.4M368.1 152.8l2.3 -0.1 2.2 -0.6 -1.2 -0.8 -1.5 0.3 -1.4 0 -1.3 -0.3M316.8 159.9l1.3 0.8 1.5 -0.2 -1 0.9M113.6 165.8l2.2 -0.2 -0.4 -0.9M165.8 181.0l0.6 1.4 1.2 0.8 1.2 0.8 0.7 1.2M163.4 181.4l1.8 2.2M296.7 254.0l0.5 1.3M298.9 257.1l0.9 1.7M300.3 260.0l0 1.7M300.0 262.8l-0.8 2M284.0 315.4l1.3 1.1M254.8 265.2l1.4 1.3M411.5 273.1l0.5 1.8M208.4 179.4l4.1 -0.7 4.5 -0.6 -4.5 0.2 -4.1 1.1M224.4 182.5l1.2 -1.5 -0.7 -0.3M222.5 180.7l1 -0.8M281.1 165.4l2.8 -0.5 -1 -0.6 -1.8 1.1M225.3 171.5l1.8 -0.6M235.4 169.5l3.6 -0.2M201.5 162.7l1.9 -0.2 1.7 0.6 1.9 -0.5 1.8 0.3 1.9 -0.3 1.8 0.6M214.3 163.1l0.9 1.4 -1.4 0.6M225.3 162.7l1.8 0 1.8 -0.2 1.3 -0.7 1.5 -0.2M244.5 159.6l1.8 -1.8 -1.8 -1.9M269.2 166.9l1.8 -0.6 1.9 -0.3 1.8 -0.6 1.8 0.6M265.6 162.3l2 0.2 1.6 -1.1 1.3 -0.6 1.5 -0.3M208.8 157.8l1.8 -0.6 1.9 -0.4 1.4 -0.3 1.3 -0.6 -1.7 -1.1 -1.9 0.2M200.6 155.9l2.2 -0.4 2.3 -0.1 1.6 0 1.2 -1M188.7 154.1l1.8 -0.3 1.8 -0.3 1.9 -1.3M207.0 149.1l1.8 -0.3 1.8 -0.4 1.4 -0.2 1.4 -0.4M224.4 144.7l2.7 0 -0.9 -0.7 -1.8 0.7M218.9 145.5l1.8 -0.2 -0.9 -0.8M219.8 149.1l2.7 -0.2 -0.9 -1.1 -1.8 1.3M245.4 145.3l2.8 0 -1 -0.8 -1.8 0.8M249.1 140.7l1.4 -0.4 1.5 -0.3 1.5 0.4 1.1 1 2.1 -1.4 2.4 0.5M269.2 136.7l2 -0.1 1.6 1 1.9 -0.2 1.8 -0.2 1.9 0.1 1.9 -0.1 1.7 -0.7 1.9 -0.2 1.8 0.4 1.8 0.2 1.8 0.7 1.9 -0.2M272.0 143.4l1.7 -0.9 1.9 0.4 -1.8 -1.1M280.2 142.2l1.8 -0.7 1.9 0.2 1.7 -0.7 1.9 0.1 2.5 -0.1 2.1 -1.2M279.3 145.1l1.6 0 1.6 -0.1 1.6 0.3 1.6 -0.4 1.9 0.4 1.8 -0.9M300.3 148.6l2.3 -0.4 2.3 -0.2 -1.3 -0.6 -1.4 -0.3M309.5 154.1l1.4 -0.3 1.3 -0.3 -1.8 -0.9M313.1 157.4l1.9 -0.3 1.8 -0.3 1.8 -0.7 -1.8 -0.5 -1.8 0.1M371.7 158.1l-1.3 0 -1.4 0 -1.4 0 -1.4 -0.2 -2.3 -0.7 -2.2 1.1 -1.9 -1.1 2.4 0 2.2 -0.7 1.3 0.8 1.5 -0.1M351.6 162.0l1.8 -0.6 1.8 0.9 1.9 -0.5M342.4 166.5l1 -1.1M317.7 169.3l1.3 -0.6 1.5 0.1 -0.9 -0.8M269.6 273.8l0.7 2.2 -0.1 1.4 -0.1 1.4 0.6 1.2 -1.7 0.8 -0.7 1.6 -0.5 1.8 -2.2 1.3 -1 2.4 -0.7 1.3 0.2 2 1.6 0.4 -0.7 1.6 -1.2 0.8 -0.6 1.2 0.7 1.2 -0.2 1.4 1.3 0.5 0.7 1.2 1.3 2.2 0.8 1.3 0.7 1.4 1.2 1.1 0.2 1.7 1.1 2.2 1 1.3 0.3 1.6 1.4 0.9 0.5 1.7 1.2 1.2 1.5 0.8 1.2 1 1.6 0.3 0.9 1.2 1.4 0.4 1.3 1.1 0.5 1.4 -0.3 1.4 -0.3 1.3 0.3 1.4 -0.4 1.6 0 1.7 0.4 1.6 -0.6 1.5 -0.9 1.7 0.2 2 -1.2 1.6 0.3 2.1 0.2 1.4 -0.6 1.3 -0.5 1.4 0.5 1.4 0 1.4 -0.3 1.3 -0.7 1.6 -0.6 1.5 -1.3 1.2 0 1.8 -0.7 2.2 -0.2 1.4 0.5 1.3 0.1 1.5 -0.8 1.3 -0.2 1.4 2 0.4 -0.1 1.4 -0.2 1.4 -1.5 1.8 -0.7 1.3 -0.6 1.4 -1.8 1.5 1.1 1 0.7 1.2 -0.3 1.6 -1.1 1.2 0.5 1.3 0 1.4 0.7 1.3 1.1 0.9 1.9 1.5 1.7 0.1 1 1.3 1.1 -1.4 0.7 -0.6 2.2 -0.5 1.7 -0.2 -1.1 -1.8 0.9 -2.1 1.3 -1.6 1.7 -1.1 1.6 -1.3 0.3 -1.8 -1.3 -0.7 -1.2 -0.8 -0.6 -1.6 1.5 -1 1.6 0.4 1 -1.8 0.5 -1.9 1.3 -0.7 1.1 -0.7 -2.4 -1 -0.2 -1.6 2 0 1.9 0.5 1.3 -1.6 0.1 -2.2 1.6 0.1 1.6 -0.3 1.8 -0.4 1.8 -0.5 1.8 -1.1 0.2 -1.4 1.1 -1 -0.9 -1.3 -0.4 -1.5 -1.4 -0.9 1.4 0 1.3 0.8 1.5 0 1.4 0.4 1.3 -0.8 1.9 -1.3 0.5 -1.4 1.3 -0.8 0.8 -1.4 1.4 -0.9 0.4 -1.8 1.4 -1 1.5 -1.8 1 -1 0.5 -1.2 0.1 -2.4 0.6 -1.8 1 -1.2 1.4 -0.7 1.1 -1.1 1.6 -0.2 2.2 -1.2 1.6 -0.3 1.7 0.1 1.3 -0.6 1.4 -1.3 0.4 -1.8 1.1 -0.8 0.4 -1.4 0.7 -2.4 0.9 -2.2 0.6 -1.6 -0.4 -1.7 -0.3 -1.4 0.3 -1.3 0.9 -1.9 1.3 -1.8 1.1 -1.8 1.8 -1.5 0.5 -1.4 1.2 -0.8 0.7 -1.8 0.2 -1.9 -0.7 -2.4 -1 -0.9 -1.4 -0.1 -1.8 -0.8 -1.2 -1 -1.2 -0.8 -1 -0.9 -1.2 -0.6 -1.4 0.5 -1.4 -0.5 -1.5 0.2 -1.2 -0.9 -2.4 0.2 -0.4 -1.3 -1.2 -0.9 -1.5 -0.4 -1.4 -0.4 -1.4 -0.5 -1.4 0.5 -0.9 1 -2.2 -1.2 -0.6 -2 0.9 -1.8 -1.8 -1.8 -1.1 -1.5 0.2 -1.8 -1.3 -1.7 -1.1 -1.2 -1.6 -0.1 -1.6 -0.4 -1.5 -0.1 -1.7 -0.5 -1.6 0.5 -1.9 -1.7 -1.3 -0.7 -0.5 -1.5 -1.2 -0.9 -1.5 -0.2 -1.5 -1.6 -1.7 -0.9 -1.1 -1.1 -2.5 0.3 -2.4 0.4 -1.8 -0.7 -1.4 0.5 -1.4 -0.5 -0.9 -1.1 -1.2 -0.8 -1.5 0 -0.4 -1.1 -1 1.2 -1 1 0.2 2.2 -1.3 0.9 -0.3 -1.3 0.1 -1.4 0.9 -2 -1.8 0.2 -1.8 0.9 -2.4 0.3 -1.3 1 -0.4 2 -2 1.4 -0.9 0.2M286.8 383.4l-3.9 1.9 -2.7 1.1 1.8 1.4 3.7 0.8 3.7 0.3 3.2 -1.6 -2.3 -0.9 -2.8 -1.7 -0.7 -1.3M299.8 382.0l2.4 -0.8 1.4 0.6 -2 0.9 -1.8 -0.7M304.0 381.2l2.2 0.2 -1.3 1.3 -0.9 -1.5M276.5 363.8l1.1 0.8 -0.3 2 -1.5 -0.4 0.7 -2.4M319.2 287.4l2.2 0 1.6 0.5 -0.7 1.7 -2.7 0.2 -0.4 -2.4M244.5 288.1l1.3 0.5 -0.7 -1.2M342.4 386.0l1.4 0.3 1.4 0.3 1.3 0.9M401.2 221.4l3.5 1.1 2.7 0.1 2.4 -0.9 2.7 -0.7 3.2 -1.3 3.6 -0.4 3.7 -0.1 2.7 -0.2 2.8 -0.2 2.2 -0.2 1.4 0.6 -0.7 1.2 0.6 1.9 -1.1 1.8 -0.6 0.9 2.2 1.1 2.4 0.8 2.7 0.2 2.4 0.9 1.3 1.6 2.7 0.9 2.8 0.9 1.8 -1.2 0 -1.9 2.8 -1.6 2.7 0.5 2.7 1.1 2.8 0.8 3.7 1.1 2.7 0.1 2.7 -1.1 2.4 0.6 1.3 0.2 2.2 -0.4 -2.9 2.4 0 1.3 1.1 1.8 1.1 1.5 1.3 2.7 1.4 2.8 0.8 1.8 1.8 2.4 0.9 2.2 0.2 2.7 1.8 2.2 1.7 3.4 1.1 2.1 2.2 1.5 2.3 2.4 1.7 1.3 0 1.6 1.4 1.9 2.8 0.2 2.7 -1.2 3.7 -0.3 3.7 -1.1 0.3 2.6 -1.3 2.7 -1.8 3.1 -1.8 3.3 -2.2 2.8 -2.4 2.7 -2.7 1.8 -2.8 2.4 -1.8 2.2 -1.8 1.9 -1.3 1.4 -0.9 2.2 -1.1 1.5 -0.8 2.2 1.1 1.6 -0.2 2.1 0.6 2.7 1.5 1.8 0.1 2.8 0.2 3.7 0.2 2.2 -1.6 2.3 -2.4 1.5 -2.8 1.3 -1.8 1.6 -1.8 1.7 -0.4 1.8 1.1 2.2 0.2 3.3 -0.9 1.5 -2.8 1.3 -1.4 1.3 0.3 1.8 -0.7 2.7 -1.8 1.9 -1.9 2.4 -1.8 1.8 -1.8 1.6 -2.4 1.5 -2.8 0.9 -3.1 0.2 -3.6 0 -3.7 1.3 -2.7 -0.9 -0.4 -2.4 -0.6 -1.8 0.6 -1.9 -1.8 -2.2 -1.5 -2.2 -1.5 -2 -1.2 -2.7 -1 -2.8 0 -3.1 -1.8 -2.8 -1.3 -3.2 -1.8 -2.8 0 -2.8 0.9 -2.7 0.7 -2.7 1.7 -2.3 0.4 -2.7 -1.1 -2.8 -0.8 -2.7 -1.1 -3.3 0 -1.8 -1.2 -1.9 -1.9 -1.8 -1.8 -1.8 -0.9 -2.4 0.9 -2.2 0.4 -1.9 0.1 -2.3 -0.5 -2 -1.5 -1.1 -2.2 0.1 -1.8 0.2 -1.8 -1.3 -1.9 -2.2 -2.7 -0.3 -2.8 0.3 -1.8 0.9 -2.7 1 -2.2 0.7 -2.4 -0.6 -2.8 0 -2.7 0.8 -2 0.5 -2.6 -1.1 -2.7 -2.2 -1.9 -1.2 -2.3 -1.7 -0.9 -2.2 -1.3 -1.8 -1.9 -1.7 -1.8 -2 -1.5 -0.9 0 -1.9 -1.2 -2.2 1.6 -2.3 0.6 -2.8 0.3 -2.7 -0.7 -1 -0.9 -2.7 1.4 -2.4 0.4 -2.6 1.8 -1.8 1 -2.4 2.2 -2.4 0.7 -1.1 2.5 -0.7 2.8 -1.8 0.5 -2.2 -0.1 -1.9 2 -2.7 2.7 -1.5 1.7 -2.2 0.7 -1.4M502.2 309.0l1.3 2.8 0.8 3.2 -1.5 2.2 -0.2 2.4 -1.3 4.1 -1.4 3.6 -1.5 5.2 -3.1 1.3 -2.2 -1 -1.5 -2.7 -0.3 -2.8 1.6 -3.6 -0.4 -3.7 1 -3.1 2.7 -1.1 2.8 -1.7 1.8 -2.5 1.4 -2.6M470.6 286.3l2.7 0.1 1.3 1.5 -0.7 2.8 -1.9 1.1 -1.8 -0.8 0 -2.5 0.4 -2.2M465.6 293.2l-0.2 1.4 0.8 1.2 0.5 1.2 0 1.4 1.1 0.9 0.2 1.5 0.7 2M474.2 304.6l0.6 1.3 0.5 1.3 0.2 1.4 -0.5 1.3 1.1 1.4 0 1.7M477.9 278.8l0.5 1.8 0.4 1.6M436.7 262.2l1.8 0.2 0 1.1 -1.6 -0.1 -0.2 -1.2M461.4 319.8l1.9 -1.6 1.6 -0.8M381.2 235.1l1.1 -0.3 -0.5 0.7M386.0 235.3l0.6 -0.9M383.3 235.7l0.5 -0.2M509.8 264.1l1.8 -0.2M491.3 308.4l2 1M513.4 325.7l0.6 0.2M517.3 324.0l0.3 0.2M368.8 259.5l0.5 -0.4M427.6 280.8l0.7 -0.6M82.5 167.7l0.8 -1.3 1.4 -0.6 1.4 0.1 1 1 1.4 -0.2 1.3 0.6 0.9 0.9 2.2 0.1 2 0.8 1.7 -1.1 1.3 -0.9 1.4 -0.4 2.1 -0.9 -1.1 -0.9 -1.3 -0.4 -1.9 0.1 -1.8 -0.6 -2.3 -0.5 -2.3 -0.4 -2.5 -0.1 -2 -1.4 -1.9 -0.2 -1.8 -0.7M82.5 155.9l1.4 -0.6 1.3 0.6 1.9 0.6 -1.3 0.5 -1.5 0 -1.8 0M741.5 155.9l-1.8 0.2 -0.4 0.9 2.2 0M741.5 160.7l-1.5 -0.1 -1.5 0.6 -1.2 -0.9 -1.3 -0.7 -1.9 0.2 -1.8 0.1 -1.6 -1.2 -2 0.1 -2.3 0.8 -2.3 -0.8 -0.9 1.7 -1.6 -1.2 -2.1 -0.3 -1.8 0.2 -1.8 0.1 -1.8 -0.6 -1.9 0.5 -1.4 0.2 -1.3 0.2 -1.4 -0.2 -1.4 0.2 -1 -1.5 -1.7 -0.3 -2.4 -0.3 -2.2 -0.8 -2.3 -0.7 -2.3 0.1 -2.3 0.2 -2.3 0.7 -1.8 -0.5 -1.8 -0.8 -2 0.6 -1.7 -1 -2 0.1 -1.6 -1.1 -2.4 -0.2 -2.3 0.7 -2.4 -0.1 -2.1 -1.2 -1.1 1.4 -1.6 0.6 -1.8 0.1 -1.4 1 -1.5 -1 -1.7 0.1 -1.7 0.3 -1.6 -0.4 -1.5 0.7 -1.7 0 -1.7 0.8 -1.9 0.1 -1.4 -1 -1.4 -1 -0.9 -1.7 -2 -0.1 -1.6 -1.3 -1.3 0.5 -1.5 0 -1.4 -0.5 -1.3 0.7 -2.1 -0.6 -2.1 -0.3 -1.9 1 -2.2 0.1 -2.3 -0.4 -2.1 -1.2 -2.3 0.5 -2.4 0 -1.6 0 -1.2 -1.1 -1.3 0.3 -1.4 0.3 -1.4 0.1 -1.4 0 -1.3 0.7 -1.3 0.6 -1.4 0.6 -1.4 -0.6 2 -1.5 2.5 -0.5 1.7 -1.1 2 0.2 2.2 -1.3 2.4 -0.9 -2.6 0.2 -2 -1.7 -1.8 0.7 -1.9 0.1 -2 -0.3 -1.6 -1 -2.5 -0.8 -2.5 -0.4 -2.1 0.1 -1.8 0.9 -2.1 0.3 -1.8 0.8 -1.9 -0.7 -1.9 0.7 -1.7 0.6 -1.9 0.3 -1.9 -0.5 -1.7 1.1 -1.9 0.6 -1.8 -0.7 -1.8 -0.2 -1.9 0.2 -1.6 1.2 -2 -0.3 -1.7 0.6 -1.1 1.3 -0.9 1.1 -1.8 0 -1.7 0.5 -1.7 0.7 -1.2 1.3 0.1 1.6 0.8 1.2 -1.7 -0.7 -1 -1.5 -1.4 -0.9 -1.4 -0.8 -2.2 0.6 -2.3 0.5 -2.2 -1.1 -2.4 0.2 0 2.4 -1.3 -0.6 -1.5 0.1 -0.9 -2.2 -1.3 -0.6 -1.3 -0.4 -1.5 -0.3 -1.4 0.7 -2.1 1.4 -1.5 1.9 -1.4 1.2 -0.8 1.6 0.7 1.8 1.3 0.3 1.1 0.8 -2.5 0.4 -2.1 -1.5 -1.5 0.1 -1.2 -0.8 -1.7 0.5 -1.7 -0.6 -1.6 -0.8 -1.8 0.1 -0.8 1.1 -0.7 1.1 -1.3 -0.3 -1.4 0.1 -1.4 -0.1 -1.4 0.3 -1.3 0.8 -1.4 -0.5 -1.4 -0.2 -1.4 0.5 -1.8 -1.1 -1.4 0.1 -1.5 0.2 -1.3 0.6 -1.3 0.7 -1.6 0.5 -1.6 -0.7 -1.6 -0.1 -1.6 0.5 -2.2 -0.1 -2 -1 -1.3 -0.2 1.5 2 -0.6 1.9 -1.8 0.8 -1.8 -0.6 -1.6 1.4 -2.1 0.6 0 1.3 -1.9 0.1 -1.7 1 -1.4 0.3 -1.4 -0.3 -1.3 -0.8 -1.4 -0.1 -0.9 -1.9 -1 -1.7 -1.8 -0.5 1.8 0.4 1.9 0.3 1.4 0 1.3 0 1.4 0.4 1.4 0 2.3 0.2 2.2 -0.9 1.3 -1.9 -1.5 -0.6 -1.6 -0.3 -2.2 -1 -2.4 -0.4 -1.6 0.7 -1.7 -0.4 -1.7 -0.4 -1.4 -1 -2.1 -1.1 -2.5 0 -1.9 -0.5 -1.7 -1 -1.5 0.4 -1.2 -0.7 -1.4 0.5 -1.4 -0.6 -1.4 0.3 -1.3 0.7 -1.4 -0.3 -1.4 0.3 -1.4 0.2 -1.4 -0.2 -1.4 0.4 -1.3 0.5 -1.8 0.7 -1.9 0.5 -1.8 0.8 -1.8 0.7 -1 1.6 -1.8 0.6 -1.7 0.7 -1 1.7 -1.8 1.8 -1.2 1.3 -1.6 0.6 -1.7 0.3 -1 1.5 -2 -0.2 -1.7 1.1 -1.4 1.2 -1.9 -0.3 -0.3 1.9 0.3 1.8 0.9 1.8 1.3 0.9 1.1 1 1.4 0.2 1.4 -0.6 1.6 -0.2 1.1 -1.3 1.3 -1.6 0.9 1.6 0.6 1.9 0.9 1.3 0.9 1.4 0.5 1.8 1.4 -0.2 1.4 0.2 0.3 -1.2 1.5 -0.8 1.7 0 0.9 -2.2 0.5 -1.6 1.7 -0.2 1.1 -1.3 0 -1.8 -2.4 -0.9 -0.1 -1.5 0.6 -1.3 1.5 -0.8 1.3 -1 1.5 -1.5 2.1 -0.3 1 -1.1 0.9 -1.2 1.8 0.7 1.8 -0.8 1.5 0.3 0.9 1.1 -1.5 1.9 -2.5 0.2 -2 1.6 -1.3 2.2 0.4 2 1.3 0.7 1.4 0.6 1.9 0.4 1.8 -0.8 1.8 0.1 1.8 -0.6 1.9 -0.2 1.8 0.7 1.8 0.6 -1.9 -0.4 -1.7 0.9 -1.9 0.1 -1.8 0.1 -2.2 1.2 -2.4 -0.6 0.4 1.6 1.4 0 -0.5 1.8 -2.2 0.6 -1.8 -1.1 -0.5 1.4 -1.4 0.6 0 2.2 -1.8 0.9 -1.8 0.8 -1.9 -0.4 -1.8 -0.4 -2.4 0.9 -2.5 0.6 -2.2 0.2 -2 -0.6 -1.9 0.4 -1.8 -0.9 -0.4 -1.9 1.3 -1.8 0 -2 -1.8 0.7 -2.4 0.8 0 2.3 0.9 1.3 0.2 1.5 -1.5 1 -1.8 -0.1 -1.8 0.5 -1.8 -0.1 -1 1.8 -1.8 1.7 -1.8 0.5 -1.7 0.6 -0.2 1.2 -2.3 1 -2.6 0.3 -0.9 -0.5 0.2 1.8 -2.6 -0.2 -1.5 0.6 -1.6 0 0.7 1.3 1.5 0.9 1.8 0 0.9 1.5 1.5 0.9 0 2.4 -0.5 2.1 -1.4 0.7 -1.4 -0.7 -1.8 -0.4 -1.9 0.3 -1.8 -0.7 -1.8 0.5 -2.2 0 -1.8 1.3 0.7 1.8 0 1.8 0 1.9 -1.1 1.8 0.2 0.7 0.9 0.6 0 2 1.6 0.4 1.7 -0.4 1.3 1.1 1.2 1.1 2.1 -1.3 1.3 -0.4 1.4 0.4 1.8 -0.2 1 -1.3 1.6 -0.9 1.3 -1.4 -0.7 -1.3 1 -1.5 1.3 -1.3 2.2 -0.7 1.9 -1.1 -0.4 -1.8 1.8 -1 2.4 0.4 2.2 0.4 1.8 -1.3 1.4 -0.1 1 -1 1.2 0.7 1.4 0.2 0.5 1.8 2.2 1.3 1.7 1.5 2.2 0.4 1.1 1.1 2 1.1 0.9 1.8 -0.6 1.8 1 0.2 1.4 -2 -0.7 -1.3 0.7 -1.3 2.4 0.9 0.4 -0.7 -1.9 -1.3 -1.1 -1.2 -1.6 -0.2 -1.3 -0.2 -1.8 -0.9 -1.3 -2.1 -2 -1.2 -0.4 -1.9 1.3 -0.9 1.5 0.2 -0.2 1.3 2 -0.2 0.7 1.5 1.9 1.2 2.3 1 1.9 1.1 1.6 1.1 0 2.4 1.1 1.4 1.8 1.7 0.6 1.8 0.7 1.8 1.5 0.6 0.9 -0.2 0.4 -1.5 1.4 -0.5 -0.3 -1.1 -1.9 -1.7 -0.1 -2 2 0.2 1.1 -1.3 1.4 -0.3 1.5 0.3 0.5 1.3 0.8 -0.5 2.4 -1 1.8 -0.3 -1.8 -1.3 -0.6 -1.5 0.6 -1.5 1.2 -1.4 1.9 -1.7 1.4 -1.8 1.9 -0.7 1.8 0.9 2 0.2 -1.6 1.2 1.4 1.5 1.3 -0.6 1.5 -0.3 1.3 -0.4 1.4 -0.2 -1 -1.4 -1.7 -0.2 1.7 -0.3 1.6 -0.6 1.5 -0.7 1.6 -0.2 1.3 0.3 -1.1 0.8 -1.1 0.7 -1 1.5 -1.4 0.3 1.3 0.5 1.1 1 1.6 0.2 1.1 1.3 1.7 0.3 1.1 1.3 1.1 2 -1.7 0.2 -1.3 0.9 -1.8 0.4 -1.8 -0.4 -1.3 -0.8 -1.5 0.3 -1.5 -0.4 -1.2 -0.9 -1.4 0.3 -1.4 -0.3 -1.8 0.6 -1.8 0.7 -1.8 0.6 -1.9 -0.4 -0.9 0.3 -1.3 0.6 -1.5 0.4 -2.3 0.9 0 1.2 1.1 1.3 0.3 1.5 0.8 1.5 1.4 0.5 2.4 0.9 2 -1.1 1.1 1.1 1.5 0 1.3 0.6 1.4 -0.4 2.2 -1.3 2.4 0.2 -0.2 2.2 0 1.9 -1 1 -0.3 1.3 -0.7 2.2 -0.9 1.3M471.7 232.0l0.6 1.5 1 1.3 1.3 1.2 1.2 -1.3 0.1 -1.8 -0.2 2.4 1.3 1.6 0.4 1.6 1.4 0.8 0.7 1.4 0.8 1.4 0.8 1.6 1.4 1.1 1.2 1.2 0.1 1.6 0.2 1.5 0.9 1.2 0.9 1.1 0.9 1.1 0.8 1.7 1.4 1.3 0.5 1.6 0.9 1.5 0.9 1.7 0.1 1.9 0.3 1.5 1.4 -0.6 1.4 0.4 2.1 0 1.5 -1.4 1.7 -1.3 2 0 1.8 -1 1.9 -0.9 1.2 -1 1.5 -0.6 1.7 -1.1 2 -0.4 1.5 -0.6 1.2 -1.2 2 -0.2 1.3 -1.6 0 -2.4 1.8 -1.3 0.7 -1.6 1.2 -1.1 -0.9 -1.2 -1.1 -0.9 -1.7 -0.1 -1.5 -0.6 -1.1 -1.8 -0.1 -2.4 -0.6 1.4 -1.8 0.4 -1.2 1.1 -1 1.1 -1.7 0.3 -1.6 -0.1 -0.9 -0.9 -0.3 -1.4 0.5 -1.4 -1.1 0 -0.4 1.9 -1.1 -1.5 -0.2 -1.6 -1.6 -1.5 -1.3 -1.8 -0.9 -1.9 1.1 -0.9 1.6 -0.2 1.8 1.3 1 2.2 1.5 0.2 1.2 1.1 1.6 0.4 1.1 1.1 1.5 0.3 1.3 -0.5 2.2 -0.6 1.1 2 2.2 0.9 1.4 0.2 1.3 0.2 1.6 -0.2 1.5 0.6 1.8 0.4 1.5 -0.8 1.9 0.7 1.8 -0.9 2.2 0 1.3 1.7 1.4 1.4 1.5 1.7 2.4 -0.2 -2 1.1 1 1.3 1 1.3 1.3 -0.5 1.4 0.3 1.3 -1.7 0.6 1.3 0 1.3 0.5 1.4 -0.5 1.4 0.6 1.3 0.3 1.4 1 1.4 -0.1 1.7 1 1.4 0.3 1.6 0.8 1.4 0.1 1.7 0.6 1.4 0.9 1.3 0.9 2.2 0.2 1.4 1.1 1 1.1 0.7 1 -1.2 1.5 -1 1.5 -1.8 0.4 -1.5 -0.2 -1.6 0.2 -1.4 0.5 -1.4 -0.3 -1.5 -0.1 -1.6 1.7 -1.4 1.2 -0.6 1.2 -0.5 0.9 -1.3 1.3 -0.9 1.1 -1.5 1.6 -1.1 1 -1.4 1.7 -0.4 1 -2.1 2.2 -0.9 2.3 -0.2 2.4 -0.9 1.8 0.2 0.8 2.4 1.1 1.8 1.8 1.9 0.8 1.2 0.3 1.5 -0.6 1.4 0.6 1.4 1.8 0.3 1.1 -1.1 1.5 -0.3 1.5 0.5 0.1 2.4 0.3 1.4 0.3 1.3 0.4 1.5 0.7 1.3 -0.4 1.4 0.6 1.4 0 1.4 -0.8 1.3 0 1.8 1.4 0.9 0.8 1.3 1.5 1.9 0.6 1.3 0 1.4 0.7 1.2 0.5 1.4 1.2 0.8 1 0.8 1.9 1.1 1.2 0 -0.1 -1.5 -1.1 -1 -0.2 -2.2 -0.4 -2.4 -1.8 -1.7 -2.2 -1.2 -0.3 -1.5 -1 -1.1 -1.5 -1.9 0.9 -1.4 -0.1 -1.7 -0.5 -1.4 0.7 -1.3 1.6 -1.7 1.1 1.3 1.8 1.3 0.9 1.8 1.6 0 1.2 1.1 0.2 1.4 0.7 1.2 -0.4 0.7 1.4 -0.4 0.8 -1.2 1.5 -1.5 2.2 -0.9 1.8 -1.3 0.3 -1.4 0.3 -1.3 -0.2 -1.4 -0.4 -1.4 -1.2 -1.1 -0.1 -1.6 -1.2 -1 -1.1 -1.2 -0.3 -1.5 -1.2 -0.9 -0.9 -1.9 1.8 -1.8 1.3 -0.6 0.7 -1.2 1.7 -0.4 1.8 0.4 0.6 2.2 0.9 -1.7 2.4 -0.9 1.7 0 1.4 -0.9 1.4 -0.4 2.2 -0.7 1.7 -0.1 1.1 -1.2 1.1 -1.3 1.6 -0.7 0.6 -1.3 1.3 -0.7 0.9 -2.4 0.9 -1.8 1.8 -0.9 0.3 -1.3 0.3 -1.3 -1.5 -1.1 1.5 -0.9 -0.6 -1.9 -0.7 -1.5 -1.1 -1.2 -0.5 -1.5 -1.3 -0.7 0.9 -1.1 0.5 -1.3 2 -0.7 1.7 -1.1 -0.6 -1 -1.3 -0.3 -1.4 0.3 -1.4 0.3 -1.4 0.1 -0.9 -1.6 -1.4 -1.5 2.3 -0.9 1.9 -1.1 1.8 -1.3 1.8 0.6 -0.1 1.6 -1.3 1.1 1.1 0.2 1.7 -0.5 1.4 -1.2 1.8 0 1.5 1.9 -0.6 1.8 1.5 0.2 1.3 0.9 -0.2 2.2 -0.2 2.2 2.2 0.2 1.5 0 1.2 -0.9 1 -2.4 -1 -1.9 -0.7 -1.3 -1.1 -1 -0.9 -1.9 1.2 -1.1 1.5 -0.7 1.5 -1.8 1.8 -1.1 0.9 -1.1 1.3 -0.4 1.5 0.1 1.3 0.6 1.9 -0.8 1.7 -1.4 1.7 -1.1 1.1 -1.6 0.9 -1.9 1.8 -0.9 0.9 -1.9 1.9 -0.8 0.5 -1.8 0.4 -1.9 0.8 -1.3 0.7 -1.4 -0.2 -2.4 -1.7 -0.7 -1.4 -1 -1.8 0.7 -1.9 -0.3 -1.3 -1.8 -1.4 0 -1.3 0.3 0.5 -1.2 0.9 -1 1.3 -0.3 1.3 -0.2 2.3 -0.4 1.4 -1.8 1.5 -0.8 1.2 -1 2.1 -0.2 1.6 -1.3 1.3 -0.4 1.4 0.2 1.4 -0.3 1.4 0.3 1.3 0.7 1.5 0.1 1.2 -0.8 1.5 -0.4 1.4 -0.2 1.5 -0.2 1.2 0.9 1.3 0.6 2.3 -0.5 2.3 -0.2 0.7 -1.2 1.2 -0.8 1.5 -0.8 1.2 -1.2 1.5 0 1.3 0.7 1.1 -1.1 1.6 0 0.9 1.8 1.3 -1 1.4 -0.6 1.4 -0.8 1.4 -0.7 1.8 0 -1.1 1 -0.7 1.2 -1.3 1.4 -1.8 0.6 -2.1 0.7 -1.6 1.5 -1.4 0.3 -1.3 0.3 -1 1.1 -1.4 0.5 -1.6 1.3 -0.2 2 -0.2 1.9 -0.7 1.8 0.1 2 1.1 1.7 0.9 1.8 1.2 -1.7 1.8 -1 1.2 -2 1.9 -1.2 2 -0.3 1.6 -1.1 1 -1.3 1.4 -0.9 -0.9 -2.4 0.9 -1.8 1.1 -1 0.2 -1.4 1.8 -0.5 1.9 -0.5 2.2 -0.8 2.3 0.5 2 0 1.7 0.9 1.8 -1.1 1.9 -0.7 1.9 -0.5 1.7 -1 2.6 0.3 2 -1.6 2.1 -0.4 1.9 0.8 0.2 -1.7 -1.8 -1.2 -1.5 -1.5 2.4 0 2.2 -0.7M498.0 203.2l3.7 -1.4 4.6 -0.6 2.7 0.6 0 2.1 -3.3 1.5 -1.6 0.6 1.3 2.2 2.7 0.9 0.4 1.8 2 1.3 -1.5 1.5 0.9 1.8 0.6 2.7 -1.5 1.1 -2.7 0.4 -2.8 -1.3 -1.8 -1.6 0.4 -2.2 1.1 -1.8 -1.9 -2.4 -1.8 -1.9 -0.9 -1.8 -0.6 -3.5M519.1 202.7l2.7 -1.3 2.8 0.7 -0.9 2.4 -1.9 1.8 -2.7 0.4 -0.4 -2.2 0.4 -1.8M546.5 203.6l2.8 -2.2 3.7 0.4 3.6 0 -2.7 0.5 -4.6 0.4 -1.8 1.8 -1 -0.9M602.0 192.6l2.2 -0.4 2.8 -1.4 2.7 -1.9 2.7 -2.7 0.6 -1.3 -1.8 1.3 -2.4 2.7 -2.8 1.3 -2.7 1.5 -1.3 0.9M467.3 177.0l2.4 -2.4 2.7 0.9 -1.8 1.5 -3.3 0M474.8 174.8l1.8 -2.4 1.7 1.5 -1.3 1.3 -2.2 -0.4M401.6 195.1l3.1 -0.3 1.8 -0.7 2.8 0 3.2 -0.2 2.1 -0.8 -1.3 -0.5 1.8 -2 -2.6 -0.8 -0.1 -1.1 -1.3 -1.4 -1.8 -1.1 -1 -1.7 -2.2 -0.2 1.7 -1.3 0.5 -1.6 -2.7 -0.2 -1.1 0.2 1.6 -1.6 -3.3 -0.2 -1.4 1.4 -0.7 1.5 1 1.3 0.2 1.6 1.3 0.4 -0.2 0.9 2.6 -0.4 0.9 1.7 -0.2 1.1 -2.2 0.2 -0.5 0.9 0.9 0.9 -2 0.7 1.6 0.6 2.4 0.5 -2.4 0.4 -2.5 1.8M400.7 191.3l-3.3 0.9 -3.3 0.4 -1 -1.3 1.5 -0.9 -0.5 -1.3 -0.4 -1.5 2.7 -0.3 0.2 -1.1 2 -0.6 2.2 0.2 0.9 1.1 -0.9 1.3 0 1.6 -0.1 1.5M432.1 141.1l4.6 2.5 1.8 1.3 4.3 1.7 3.1 -1.7 5.5 -1.3 -4.6 -1.3 3.6 -1.6 -5.5 -0.4 -5.4 0.4 -7.4 0.4M445.9 140.0l6.4 1.6 8.2 -0.4 0.9 -1.2 -7.3 -0.6 -8.2 0.6M450.4 145.1l5.5 0.2 -0.9 -1.7 -3.6 0.4 -1 1.1M496.2 139.4l7.3 0.9 7.3 -0.5 7.4 0.2 7.3 -1.1 -3.7 -1.5 -7.3 0.6 -7.3 0.7 -7.3 0 -3.7 0.7M506.3 155.9l3.6 1.3 4.6 0.2 2.8 -0.6 -3.7 -2.4 1.8 -1.8 -3.6 -0.2 -2.8 1.7 -2.7 1.8M510.8 152.1l5.5 -0.8 4.6 -1.8 6.4 -1.7 7.3 -1.4 3.7 -0.4 -5.5 1.7 -7.3 1.8 -5.5 1.8 -3.7 1.3 -5.5 -0.5M586.8 141.8l4.6 0.7 5.5 -0.7 5.5 1.6 -6.4 0.6 -1.9 -3.3 -7.3 -2.2 -4.6 0.9 4.6 2.4M587.7 143.1l1.9 0.7 1.9 -0.8 2 0 1.6 1.2 1.5 -1.3 2 0 1.9 0.2 1.9 0.5 1.9 0.5 1.7 -0.8M662.8 148.9l5.5 1 7.3 -0.4 7.3 -0.4 3.7 0.4 -7.3 -1.1 -7.4 -0.7 -6.4 0 -2.7 1.2M668.3 152.4l3.6 0.4 2.8 -0.6 -4.6 -0.7 -1.8 0.9M500.4 160.5l2.2 0.5 0.9 -0.9 -1.8 -0.5 -1.3 0.9M519.1 159.0l1.4 0.3 1.3 -0.6 -1.8 -0.9M671.9 202.7l2.8 -1.5 -1.3 -1.3 0.4 -2.7 2.3 -0.6 -2 -2.7 0.2 -3.1 -0.9 -2.4 -0.5 -1 -1 1.5 -0.3 2.8 0.5 2.7 -0.2 3.1 0 2.4 0 2.8M668.8 210.9l1.7 -0.5 -0.8 -1.5 1.9 0 2.5 1.1 1.9 -1.8 2.3 -0.6 -1.8 -1.3 -2.7 -0.9 -2.2 -1.8 -0.4 1.8 -0.5 2.2 -1.9 0.2 -0.9 1.6 0.9 1.5M670.7 211.1l0.3 1.7 0.9 1.8 -0.9 2.2 -0.9 1.4 -0.4 2.8 -0.9 1.5 -0.9 -0.8 -1.1 0.8 -1.3 0.9 -2.3 0 -0.8 0.7 -1.8 1.5 -1.1 -1.3 0.2 -0.7 -2.4 -0.2 -2.8 0.9 -2.7 0.4 0 -0.9 2.7 -1.7 2.8 -0.2 2.7 -0.2 1.5 -1.3 0.9 -1.6 0.9 0.7 2.2 -0.9 1.9 -1.8 0.9 -2.2 0 -2 0.5 -1.1 1.9 -0.4M651.6 224.8l1.5 0.6 0.4 1.5 -1 2.3 -1.2 0.8 -1 -0.9 0 -1.7 -0.9 -1.3 1.3 -0.7 0.9 -0.6M654.5 224.7l3.2 -0.6 0.9 0.9 -1.7 0.8 -1.8 1.1 -1.1 -1 0.5 -1.2M678.3 206.3l1.9 -0.9 1.8 -0.9M683.8 203.6l2.8 -1.3M690.2 200.5l2.8 -2.4M695.4 196.2l2.2 -1.8M645.8 239.0l0.9 -0.9M648.7 235.3l0.7 -0.5M650.7 231.4l0.4 -0.3M643.0 225.9l1.3 -0.3M632.0 244.8l1.1 1.9 1.3 -2.8 0.7 -2.6 -1.1 -0.5 -1.4 1.6 -0.6 2.4M611.0 251.8l1.4 1.6 1.9 -0.9 0.9 -1.6 -1.3 -0.7 -2 0.3 -0.9 1.3M558.1 272.3l0.5 3.3 0.9 0.6 2.1 -1.3 0.1 -1.7 -1.1 -2 -1.8 -2.2 -0.7 3.3M471.1 222.8l1.3 0.8 1.8 -0.8 1.1 -1.1 -2 0.6 -2.2 0.5M455.2 221.9l1.6 0.7 3.3 0 -1.4 -0.5 -3.5 -0.2M434.9 217.3l1.8 1.5 2.8 0.9 0.3 -1.5 0.8 -1.2 -3 0.3 -2.7 0M427.2 212.0l0.2 3.1 1.1 0.4 1.1 -0.6 0.2 -2.1 -1 -1.3 -1.6 0.5M427.7 209.3l0.4 1.6 0.9 0.2 0.4 -2 -0.2 -0.9 -1.5 1.1M416.4 214.4l1.3 0.5 0.5 -0.9 -1.8 0.4M454.5 215.5l1.4 0.7 0.9 1.1M462.9 220.6l0.7 -0.3M459.6 215.1l0.9 0.2M445.3 182.5l1.1 -0.9 0.4 -0.8M442.0 184.0l1.1 -2.1M432.5 185.6l2 0.2 0.4 -1.5 -1.8 0.2 -0.6 1.1M430.1 185.8l1.5 0.2 -0.4 -0.9 -1.1 0.7M452.3 180.1l1.8 -0.2 -0.9 -0.3 -0.9 0.5M398.8 173.3l0.9 -0.3M409.4 177.0l0.6 -1.1M406.1 178.8l0.8 -0.1M398.6 182.1l1.5 -2M396.4 156.8l1 -0.1M581.7 265.9l0.5 -3.3M583.5 273.8l0.4 -1.5M545.6 287.0l0.5 -1.3 -0.1 -1.5 0.8 -1.2 -0.4 -1.5 0.3 -1.4 -0.7 -1.3 -0.4 -1.4 0 -1.4 -0.2 -1.8M544.2 268.7l0.9 -2.8M544.5 300.4l0.2 -1.5M650.9 209.1l0.2 -0.2M642.6 154.4l2 0 1.7 1 1.1 1.2 1.7 0.2M563.0 154.4l1.1 1.5 1.7 0.9 0.9 1.9 1.5 -0.1 1.2 1M545.6 153.2l0.9 2.2 -1 1 -0.8 1.4 1.4 1.2 1 1.5 0.1 1.4 -0.1 1.3 -2 1.3 -2.2 0.6 -1.4 0.4 -1.4 -0.4 1.5 -1.7 2.2 -0.2 0.2 -1.4 0.7 -1.3 -1.1 -1.3 -0.7 -1.4 0.9 -1.9M586.5 276.7l2.1 0.8 1.9 0 1.4 1.8 2.2 1.6 1.9 2.1 1.8 0.7 1.8 1.5 1.9 1.2 0.5 2.4 1.3 1.5 2.2 1.3 0.5 1.3 -0.3 2.3 0 2.4 -2 0 -0.8 -1.1 -2.4 -1.3 -1.8 -1.6 -1.8 -2 -1.3 -2.4 -1.5 -1.8 -0.9 -1.3 -0.5 -2.2 -1.9 -1.5 -1.2 -1.6 -1.9 -1.7 -1.2 -2.4M604.6 299.5l1.4 -1.7 1.9 0.2 2.7 1.3 2.8 0.3 1.4 -0.9 3.1 0.9 1 1.3 2.5 0.4 0 1.5 -2.5 -0.6 -3.7 0 -3.7 -1.1 -2.7 0 -2 -0.5 -2.2 -1.1M611.5 284.2l1.1 -0.9 2.6 0.8 0.7 -1.7 3 -1.3 1.8 -2.3 2.7 -1.3 1.3 -2.1 1.5 -1.2 1.3 1.2 1.4 1.5 1.3 0.6 -2.2 1.3 -0.5 1.8 0.5 2.2 1.8 2.4 -2.2 0.3 -0.5 2.8 -1.8 1.5 0 2.3 -1 1.9 -2.3 0.5 -1.9 -1.5 -3.1 0.2 -2.2 -0.7 -1.1 -2.4 -1.8 -1.8 -0.4 -1.9 0 -2.2M631.7 297.1l-0.9 -3.7 -1 -1.8 1.5 -3.1 0 -1.9 1.8 -1.8 3.1 0.4 3.3 -0.4 1.7 -0.7 -1.3 2 -2.7 0.2 -2.8 -0.2 -2.2 0.9 0.4 1.6 2.2 0 2.9 -0.1 -2.4 1.6 -0.9 1.5 1.5 1.4 0.9 1.7 -0.6 1.5 -1.8 -0.6 -0.9 -2.6 -0.9 -0.5 -0.4 2.7 -0.5 1.9M645.4 283.7l0.9 1.1 1.3 -0.6 -1.3 1.9 0.9 2.2 -1.3 -1.3 -0.5 -1.8M646.3 292.9l2.8 -0.6 2.3 0.7 -2.3 0.4 -2.8 -0.5M643.0 292.9l1.5 0 -0.4 1.1 -1.1 -1.1M638.1 305.9l1.8 -1.9 1.8 -1.1 3.1 -0.5 -1.2 1.1 -2.8 1.6 -1.8 0.6 -0.9 0.2M631.5 302.6l2 -0.2 3.3 -0.4 -0.6 1.1 -2.7 0.2 -2 -0.7M625.8 302.6l2.2 -0.6 1.8 0.6 -1.8 0.7 -2.2 -0.7M621.6 302.0l2 0.2 1.8 0.2 -2 0.7 -1.8 -1.1M629.8 304.4l2.2 0 1.1 1.1 -2.3 -0.4 -1 -0.7M604.8 290.3l2.2 0.7 0 1.5 -1.5 -0.7 -0.7 -1.5M632.2 257.7l0.2 -3.7 1.5 -1.1 1.8 0.4 0.4 2.5 -1.5 2.2 0.2 2.2 2.4 1.3 1.8 1.7 -0.6 0.2 -2.2 -1.2 -2.2 -0.3 -1.1 -0.9 -0.1 -1.1 -1.1 -1 0.5 -1.2M635.3 274.2l0.6 -1.9 2.2 -1.1 2.2 -0.2 1.4 -1.8 1.5 2.2 0.4 2.8 -1 1.4 -0.9 -0.9 -0.3 1.8 -2 -1.1 -0.8 -2.2 -1.4 0 -1.9 1M639.5 264.1l1.9 0 0.7 2.4 -1.3 1.6 -0.3 -1.8 -1 -2.2M636.2 268.7l1.1 -1.7 0.6 1.3 -0.7 2 -1 -1.6M635.3 265.4l1.9 0.5 -0.8 1.9 -1.1 -0.6 0 -1.8M626.5 271.6l1.9 -1.7 2 -2.1 0.5 -1.5 -1.4 2 -2.2 2.2 -0.8 1.1M632.4 262.4l1.5 0 0.5 1.9 -1.1 0.1 -0.9 -2M651.8 288.5l2.4 -0.8 3.1 0.8 0.4 2.7 1.4 1.8 2.8 -2 2.7 -1.1 3.7 1.5 2.7 0.5 3.7 1.3 1.8 0.9 2.4 1.9 1.8 2 1.9 0 -1.5 1.5 1.8 2.2 1.9 1.8 1.8 1.8 1.4 0.6 -2.3 0.2 -2.8 -0.6 -1.8 -1.1 -1.8 -2.4 -2.2 -0.9 -1.9 0.6 -1.1 1.8 -2.2 0.4 -1.8 -0.2 -2.2 -1.8 -2.9 0.5 -0.4 -2 1.5 -0.9 -1.5 -2.4 -2.7 -1.5 -2.8 -0.5 -2.7 -1 -1.3 0.2 -1.5 -2 2.8 -0.7 -1.9 -0.6 -2.1 -1.2 -0.6 -1.3M683.5 297.3l3.1 -1.1 2.7 -1.5 1.5 0.2 -0.9 1.8 -2.4 1.7 -2.7 -0.2 -1.3 -0.9M688.0 291.8l2.2 1.1 1.9 1.8 -0.8 0.5 -2 -2.2 -1.3 -1.2M695.0 296.9l1.7 1.3 0.7 1.3 -1.3 -0.6 -1.1 -2M698.5 299.3l1.8 1.1 1.8 0.9M704.0 301.7l1.8 0.9M704.3 304.0l2.1 1M707.3 305.9l1.6 0.7M717.2 314.5l0.9 1.3M718.3 316.7l0.9 0.5M720.1 319.4l0.3 0.2M712.2 323.9l2.8 1.6 2.3 2.2 -1.1 -0.4 -2.5 -1.8 -1.5 -1.6M736.6 319.1l2.2 -0.2 0.1 1.3 -2.2 0 -0.1 -1.1M739.3 317.4l2 -0.7M672.9 306.6l1.8 3.3 0.4 3.1 2.9 1.3 0.3 2.9 1.3 3.7 2.4 1.7 2.4 1.6 1.5 3.1 2.1 1.9 1.9 1.8 2.2 2.2 0.3 3.3 0.8 2.7 -1.1 3.7 -0.9 2.8 -1.9 2.2 -1.3 2.7 -1.1 2.8 -0.5 2.4 -2.9 0.5 -3.3 2 -2.8 -1.1 -2.7 0.9 -3.7 -0.9 -2.7 -1.4 -0.9 -2.8 -1.9 -0.9 -0.3 -1.9 -1.1 1 0 -3.7 -0.8 1.8 -1.4 1.9 -1.9 -0.6 -0.9 -1.8 -1.8 -1.7 -2.8 -1.4 -2.7 -0.9 -3.7 0.1 -3.6 1.1 -2.8 0.8 -2.7 0.9 -0.9 1.4 -2.8 0 -3.6 0 -2.8 1.7 -1.8 0.6 -2.8 -0.6 -1.8 -0.9 0.6 -2.4 0.7 -2.2 -1.3 -2.8 -0.7 -2.9 -1.1 -2.6 -1.3 -2 0.9 -1.2 -0.5 -1.9 0.3 -2.7 0.6 -2.2 2.2 -1.1 2.7 -1.1 2.4 -0.6 2.8 -0.5 2.7 -0.8 2.2 -2.4 0.2 -2 2.2 0.2 0.5 -1.8 1.9 -1.5 1.8 -2 1.8 -0.9 1.8 1.1 1.3 0.7 1.9 -0.2 0.5 -2.3 1.7 -2.1 2.3 -0.3 1.1 -1.7 2.2 0.9 2.6 0.8 2.4 -0.6 0.5 1.1 -1.4 1.7 -0.6 2.5 2 2 2.2 1.3 2.4 1.7 2.2 0 0.9 -2.4 1.1 -3.1 0.2 -3.1 0.5 -2.8 1 -1.1M676.9 361.8l2.9 0.7 3.1 -0.5 0.6 2 -0.9 2.2 -2.4 0.7 -1.9 -1.3 -0.5 -1.6 -0.9 -2.2M662.1 352.6l1.6 -0.2 0.9 0.4 -1.8 0.2M650.3 308.1l2.1 -0.4 0 0.9 -1.7 0 -0.4 -0.5M661.7 312.5l0.9 0.4M728.1 350.2l1.5 1 1.8 1.8 1.9 1.5 0.5 1.3 2.2 0.7 2.4 -0.4 -0.6 2 -1.8 1.1 -0.2 1.7 -2 2.2 -1.8 -0.4 0.5 -1.6 -1.1 -1.3 -1.2 -0.7 1.4 -1 0.4 -1.8 -0.9 -1.8 -1.5 -1.9 -1.5 -2.4M728.1 361.4l2.1 0.8 0.9 1.4 -1.5 1.9 -1.3 1.3 0.4 0.7 -2.8 0.7 -0.9 1.9 -0.9 1.2 -1.8 1.1 -2.2 -0.2 -1.8 -0.5 -1.3 -0.7 1.6 -1.9 1.8 -1.4 2.8 -1.5 2.4 -1.8 1.3 -2.2 1.2 -0.8M718.8 373.0l1.1 0.2 -0.7 0.3M88.4 367.3l0.9 0.4M126.4 252.2l1.9 -1 -1.5 -1.2 -0.4 2.2M125.3 248.9l1 0M122.4 247.8l0.9 0M119.7 246.7l0.5 -0.2M95.9 311.9l2.2 0.8M138.1 319.3l0.8 0.3M91.1 325.9l0.4 -0.2M676.9 262.6l0.3 -0.5M537.9 377.2l2.6 -0.2 0 0.9 -2.2 0.2 -0.4 -0.9M82.5 430.4l2.5 -0.1 2 1.3 2.5 0.6 2.2 -1.3 2.2 -0.5 2.3 0 2.2 1 2.4 -0.3 2.3 0.1 2.3 0.3 2.1 -1.4 2.5 0.5 2.2 -0.6 2.3 0 2.4 0.7 2.2 -1.1 1.2 -0.7 1.4 -0.5 1.4 0.6 1.5 -0.5 1.8 -0.6 1.9 -0.3 1.7 1.1 1.9 0 1.4 -0.7 1.5 0.6 1.1 -1.2 1.5 -0.2 2.1 -0.2 1.3 -1.6 2 -0.4 1.9 0.4 1.8 0.8 1.9 -0.4 1.8 -0.6 1.9 -0.1 2 0.2 1.6 -1.2 1.8 0.2 1.9 -0.2 1.4 -0.1 1.3 -0.7 1.4 -0.1 1.4 0.4 2.1 -1.3 2.4 0.6 2.3 0.7 2.3 -0.4 2.3 0.5 2.4 0 2.5 0.2 2 -1.6 2.1 -1.1 2.5 0.1 2.3 0.4 2.2 0.6 2.1 1.5 2.5 -0.3 2.2 -0.7 2.4 -0.1 2.3 -0.2 2.3 0.1 2.3 0.5 2.2 0.5 2.5 0 2.1 1.2 2.4 0.3 2.2 -1 1.5 0.3 1.4 -0.5 1.4 -0.3 1.2 -0.9 1.9 -0.8 1.7 -1.1 1.8 -0.5 1.9 0 1.8 -0.2 1.9 0.4 1.9 -0.3 1.7 1.1 1.8 -0.7 1.9 0.2 1.9 -0.2 1.8 0.5 1.6 -1.1 2 0.3M352.0 428.3l2.1 -0.9 2 -1.1 2.3 -0.3 2.3 0.3 2.1 0.5 2 -0.9 2.1 -0.4 1.2 -1.9 1.4 -1.5 2.1 -0.1 1.8 -1 2 0.4 1.9 0 1.7 -0.8 1.9 -0.4 1.8 -0.3 1.3 -0.7 1.3 -0.5 1.5 0.1 1.4 -0.2 1.9 -0.4 1.8 -1 1.3 0.5 1.5 -0.4 1.4 -0.2 1.3 -0.7 1.9 0.1 1.7 -1 1.9 0 1.8 0.7 1.8 -0.5 1.9 0 1.9 -0.1 1.7 -0.8 1.8 -0.6 1.9 0.3 1.9 0.1 1.7 0.9 2 0.2 1.6 -1.1 1.9 0.4 1.8 0.1 1.8 -0.4 1.9 0 1.8 0.9 1.9 -0.6 1.8 -0.5 1.8 0.4 1.9 0.4 1.8 -0.5 1.7 1.1 1.9 -0.5 1.9 -0.7 1.8 0.6 1.8 0.7 1.9 -0.4 1.8 0.7 1.8 -0.4 2 -0.6 1.8 1 1.7 -1 1.9 -0.3 1.6 -1.2 1.9 -0.1 1.8 0.9 2 -0.5 1.4 -0.7 1.3 -0.8 2 1.6 2.6 -0.1 1.4 0.4 1.4 -0.5 1.3 0.3 1.4 0.3 1.8 -1.5 1.5 -0.4 1.1 -1 1.5 0.4 1.4 -0.8 1.4 -0.5 1.2 -0.7 1.4 0.4 1.5 0.1 1.3 -0.8 1.3 -0.4 1.5 -0.4 1.4 0.5 1.1 -1.1 1.4 -0.5 1.5 0 1.5 -0.3 1.4 -0.2 1.3 0.6 1.3 -0.8 1.5 0.4 2.4 0.5 2.2 1.2 2.2 0.9 2.3 0.2 1.4 -0.5 1.4 -0.1 1.5 0 1.2 0.8 1.4 0.4 1.3 0.4 1.3 -0.8 1.5 0.3 1.4 -0.5 1.4 -0.3 1.3 0.6 1.4 0.4 1.3 1.2 1.5 0.8 1.7 0.5 1 1.4 1.8 -0.8 1.9 0.4 1.4 -0.2 1.4 0.1 1.2 -0.8 1.5 -0.2 1.6 -1.2 2 -0.6 1.5 -0.2 1.5 0.4 1.3 -0.8 1.2 -0.9 1.3 -0.5 1.4 -0.4 1.4 0.4 1.4 -0.6 1.5 0.2 1.4 0.6 1.1 -1 1.5 -0.3 1.4 -0.1 1.3 0.7 1.3 -0.7 1.5 0.4 1.4 0.3 1.4 0.4 1.5 -0.1 1.2 -0.9 1.4 0.1 1.3 -0.7 1.4 -0.1 1.4 -0.1 1.1 -1.1 1.5 0 1.4 0.3 1.5 0.1 1.3 0.6 1.4 -0.3 1.3 -0.7 1.4 0.4 1.4 0.3 1.3 0.6 1.4 0.2 1.4 0.2 1.4 -0.5 1.5 0.1 1.3 0.6 1.3 0.5 1.6 -0.4 1.4 0.7 1.2 -0.8 1.3 -0.8 1.1 1.1 1.6 0 1.4 -0.4 1.4 0.2 1.5 0.4 1.4 -0.8 1 1.1 1.6 0.1 1.3 -0.7 1.4 0.4 1.5 0.4 1.3 -0.7 1.4 0.3 1.3 -0.6 1.4 0.2 1.4 -0.1 1.5 -0.2 1.3 0.7 1.5 -0.2 1.2 -0.8 1.3 -0.4 1.4 -0.2 1.3 0.7 1.5 -0.1 1.4 0 1.3 0.7 1.3 -0.7 1.5 0 1.3 -0.1 1.4 -0.1 1.4 -0.1 1.4 0.3 1.3 -0.6 1.5 0.1 1.2 0.9 1.4 0.3 1.6 0.1 1.1 1.1 1.4 -0.3 1.4 -0.3 1.6 -0.1 1.1 1 1.4 0.3 1.4 -0.5 1.5 0.2 1.5 -0.1 1.2 0.9 1.3 0.8 1.4 0.1 1.3 0.5 1.4 -0.1 1.4 0.1 1.4 0.1 1.3 0.3 1.4 0.3 1.4 -0.2 1.4 0.1 1.4 0.2 1.4 -0.3 1.3 0.8 1.3 0.4 1.4 0.4 1.4 -0.2 1.4 0.5 1.1 0.9 1.5 0.3 1.4 0 1.5 0 1.4 -0.3 1.3 -0.3 1.5 0 1.3 0.8 1.4 -0.2 1.5 0 1.5 0.2 1.1 1.1 1.4 0.5 1.3 0.6 -0.9 1.9 -1.4 0.9 -1.4 0.9 -1 0.8 -0.9 1 -1.3 0.5 -1.3 -0.5 -1.6 0.7 -1.2 1.2 -1.2 0.8 -0.6 1.4 1.4 0.7 1.3 0.7 2 -0.3 1.7 1.1 1.4 -0.1 1.3 0.3 1.4 0.6 1.4 -0.5 2.4 0.3 2.2 -1.2 2.1 1.4 2.4 -0.6 2.3 0.8 2.3 -0.4 2.2 -0.9 2.4 0.3M716.2 429.1l1.3 0.5 1.3 0.5 1.5 -0.1 1.1 -1.1 -1 0.5M300.3 401.9l4.6 -1.2M327.8 398.1l2.2 0.2M155.5 303.5l0.6 0.2M123.9 283.7l0.3 -0.2M293.4 227.8l0.2 -0.1M365.0 217.7l0.9 0M359.8 216.4l0.9 0.2M380.5 227.1l0.9 -0.1M385.6 301.5l0.2 0.1M401.6 316.1l0.1 0.1M389.5 355.0l0.1 0M446.8 150.6l0.3 -0.2M546.2 384.2l0.9 0.1M506.6 372.1l0.4 0.1M553.9 356.3l0.2 0.1M513.4 295.4l0.2 0.2M605.3 306.2l0.2 0M589.2 309.2l0.2 0.1M658.2 273.4l0.2 -0.3M678.7 259.5l0.2 -0.4M672.3 237.5l0 -0.2M717.0 251.6l0.1 0M87.3 235.3l0.1 0M146.6 316.3l0.9 0.6M119.5 325.9l0.2 0.1M211.7 336.7l0.2 0.1M267.6 348.6l0.2 0.1M157.6 305.0l0.1 -0.1M728.7 284.4l0.2 -0.2M725.4 274.0l0.2 0M701.6 274.4l0.2 0M689.9 273.4l0.2 0M717.5 287.9l0.1 0M740.0 302.6l0 -0.1M89.5 311.4l0 0M101.0 321.8l0.1 0M252.0 420.1l2 0.5 2.1 -0.5 1.6 1.5 2.2 0 2 -0.8 2 -0.3 2 0.9 2.1 -0.1 1.1 -1 1.4 -0.3 1.7 0.6 1.8 -0.6 -0.5 -2.4 0.5 -2.3 2 -0.7 0.5 2 1.5 1.4 1.8 1.4 0.7 2.1 -1.5 -1 -1.5 -1 -0.3 -1.4 0.4 -1.3 -1 -0.9 -0.6 -1.3 2.4 -0.9 2.5 -0.1 0.9 -1 1.3 -0.5 1.4 -0.1 1.3 0.6 0.6 -1.8 1.7 0.2 1.4 -0.9 1.4 -1.1 1.1 -1.4 2 -0.8 2 0.4 2 -0.6 1.5 -1.5 1.8 -0.8 1.8 -0.8 1.9 0.2 2 -0.2 -1.6 0.9 -0.7 1.7 -1.4 1 -1.3 1.1 -1.1 1.9 -0.8 1.9 0.2 1.4 -0.7 1.2 0.1 1.5 1.1 0.9 0.3 2.6 0.9 2.4 -1.2 1.1 -1.3 0.8 1.3 0.5 1 1 1.3 0.8 1.4 -0.4 2.6 0.4 2.4 1 1.2 0.5 1.2 0.6 1.3 -0.4 1.3 0.3 1.4 0.2 1.3 -0.5 1.3 0.5 0.9 1 2.6 0.4 2.5 -0.3 1.7 0.9 1.9 0.7 2 0 1.9 -0.6 0.8 -1.2 1.5 -0.3 1.4 -0.1 1.3 0.7 2.5 0.2 2.5 -0.3 2.5 -0.4 2.5 -0.4 1.4 -0.1 1.2 0.8 1.1 -0.9 1.3 -0.3"/>
</g>
<g stroke="#303030" stroke-width="1.4" fill="none">
<rect x="82.5" y="122.0" width="659.0" height="330.0"/>
<path stroke-width="1.1" d="M82.50 452.00v-7.0M82.50 122.00v7.0M100.81 452.00v-3.5M100.81 122.00v3.5M119.11 452.00v-3.5M119.11 122.00v3.5M137.42 452.00v-3.5M137.42 122.00v3.5M155.72 452.00v-3.5M155.72 122.00v3.5M174.03 452.00v-3.5M174.03 122.00v3.5M192.33 452.00v-7.0M192.33 122.00v7.0M210.64 452.00v-3.5M210.64 122.00v3.5M228.94 452.00v-3.5M228.94 122.00v3.5M247.25 452.00v-3.5M247.25 122.00v3.5M265.56 452.00v-3.5M265.56 122.00v3.5M283.86 452.00v-3.5M283.86 122.00v3.5M302.17 452.00v-7.0M302.17 122.00v7.0M320.47 452.00v-3.5M320.47 122.00v3.5M338.78 452.00v-3.5M338.78 122.00v3.5M357.08 452.00v-3.5M357.08 122.00v3.5M375.39 452.00v-3.5M375.39 122.00v3.5M393.69 452.00v-3.5M393.69 122.00v3.5M412.00 452.00v-7.0M412.00 122.00v7.0M430.31 452.00v-3.5M430.31 122.00v3.5M448.61 452.00v-3.5M448.61 122.00v3.5M466.92 452.00v-3.5M466.92 122.00v3.5M485.22 452.00v-3.5M485.22 122.00v3.5M503.53 452.00v-3.5M503.53 122.00v3.5M521.83 452.00v-7.0M521.83 122.00v7.0M540.14 452.00v-3.5M540.14 122.00v3.5M558.44 452.00v-3.5M558.44 122.00v3.5M576.75 452.00v-3.5M576.75 122.00v3.5M595.06 452.00v-3.5M595.06 122.00v3.5M613.36 452.00v-3.5M613.36 122.00v3.5M631.67 452.00v-7.0M631.67 122.00v7.0M649.97 452.00v-3.5M649.97 122.00v3.5M668.28 452.00v-3.5M668.28 122.00v3.5M686.58 452.00v-3.5M686.58 122.00v3.5M704.89 452.00v-3.5M704.89 122.00v3.5M723.19 452.00v-3.5M723.19 122.00v3.5M741.50 452.00v-7.0M741.50 122.00v7.0M82.50 452.00h3.5M741.50 452.00h-3.5M82.50 433.67h7.0M741.50 433.67h-7.0M82.50 415.33h3.5M741.50 415.33h-3.5M82.50 397.00h3.5M741.50 397.00h-3.5M82.50 378.67h3.5M741.50 378.67h-3.5M82.50 360.33h7.0M741.50 360.33h-7.0M82.50 342.00h3.5M741.50 342.00h-3.5M82.50 323.67h3.5M741.50 323.67h-3.5M82.50 305.33h3.5M741.50 305.33h-3.5M82.50 287.00h7.0M741.50 287.00h-7.0M82.50 268.67h3.5M741.50 268.67h-3.5M82.50 250.33h3.5M741.50 250.33h-3.5M82.50 232.00h3.5M741.50 232.00h-3.5M82.50 213.67h7.0M741.50 213.67h-7.0M82.50 195.33h3.5M741.50 195.33h-3.5M82.50 177.00h3.5M741.50 177.00h-3.5M82.50 158.67h3.5M741.50 158.67h-3.5M82.50 140.33h7.0M741.50 140.33h-7.0M82.50 122.00h3.5M741.50 122.00h-3.5"/>
</g>
<text x="411" y="89.4" font-size="30.2" text-anchor="middle" textLength="361.5" lengthAdjust="spacingAndGlyphs">Atmos Sea Ice Concentration</text>
<text x="412.5" y="111.3" font-size="16.2" text-anchor="middle" textLength="85.5" lengthAdjust="spacingAndGlyphs">0588kyr BP</text>
<text x="82.4" y="118.7" font-size="16.6" textLength="99.2" lengthAdjust="spacingAndGlyphs">Expt = teVtP1</text>
<text x="742.3" y="115.6" font-size="16.8" text-anchor="end" textLength="26" lengthAdjust="spacingAndGlyphs">JJA</text>
<text x="73.4" y="145.7" font-size="16" text-anchor="end" textLength="24.7" lengthAdjust="spacingAndGlyphs">80N</text>
<text x="73.4" y="219.1" font-size="16" text-anchor="end" textLength="24.7" lengthAdjust="spacingAndGlyphs">40N</text>
<text x="73.4" y="292.4" font-size="16" text-anchor="end" textLength="7.2" lengthAdjust="spacingAndGlyphs">0</text>
<text x="73.4" y="365.7" font-size="16" text-anchor="end" textLength="22.3" lengthAdjust="spacingAndGlyphs">40S</text>
<text x="73.4" y="439.1" font-size="16" text-anchor="end" textLength="22.3" lengthAdjust="spacingAndGlyphs">80S</text>
<text x="82.5" y="472.3" font-size="16" text-anchor="middle" textLength="21.5" lengthAdjust="spacingAndGlyphs">180</text>
<text x="192.3" y="472.3" font-size="16" text-anchor="middle" textLength="35.0" lengthAdjust="spacingAndGlyphs">120W</text>
<text x="302.2" y="472.3" font-size="16" text-anchor="middle" textLength="27.8" lengthAdjust="spacingAndGlyphs">60W</text>
<text x="412.0" y="472.3" font-size="16" text-anchor="middle" textLength="7.2" lengthAdjust="spacingAndGlyphs">0</text>
<text x="521.8" y="472.3" font-size="16" text-anchor="middle" textLength="23.1" lengthAdjust="spacingAndGlyphs">60E</text>
<text x="631.7" y="472.3" font-size="16" text-anchor="middle" textLength="30.2" lengthAdjust="spacingAndGlyphs">120E</text>
<text x="741.5" y="472.3" font-size="16" text-anchor="middle" textLength="21.5" lengthAdjust="spacingAndGlyphs">180</text>
<rect x="84.50" y="495.5" width="59.89" height="11.5" fill="#ffffff"/>
<rect x="144.09" y="495.5" width="59.89" height="11.5" fill="#6010e0"/>
<rect x="203.68" y="495.5" width="59.89" height="11.5" fill="#1030e0"/>
<rect x="263.27" y="495.5" width="59.89" height="11.5" fill="#1080e0"/>
<rect x="322.86" y="495.5" width="59.89" height="11.5" fill="#10b0e0"/>
<rect x="382.45" y="495.5" width="59.89" height="11.5" fill="#10e0d0"/>
<rect x="442.05" y="495.5" width="59.89" height="11.5" fill="#30e030"/>
<rect x="501.64" y="495.5" width="59.89" height="11.5" fill="#c0e010"/>
<rect x="561.23" y="495.5" width="59.89" height="11.5" fill="#e0b010"/>
<rect x="620.82" y="495.5" width="59.89" height="11.5" fill="#e05010"/>
<rect x="680.41" y="495.5" width="59.89" height="11.5" fill="#e00000"/>
<path d="M144.09 495.5V507.0M203.68 495.5V507.0M263.27 495.5V507.0M322.86 495.5V507.0M382.45 495.5V507.0M442.05 495.5V507.0M501.64 495.5V507.0M561.23 495.5V507.0M620.82 495.5V507.0M680.41 495.5V507.0" stroke="#303030" stroke-width="1" fill="none"/>
<rect x="84.5" y="495.5" width="655.5" height="11.5" fill="none" stroke="#303030" stroke-width="1.1"/>
<text x="143.5" y="523.7" font-size="18" text-anchor="middle" textLength="9.0" lengthAdjust="spacingAndGlyphs">1</text>
<text x="203.1" y="523.7" font-size="18" text-anchor="middle" textLength="19.6" lengthAdjust="spacingAndGlyphs">10</text>
<text x="262.7" y="523.7" font-size="18" text-anchor="middle" textLength="19.6" lengthAdjust="spacingAndGlyphs">20</text>
<text x="322.3" y="523.7" font-size="18" text-anchor="middle" textLength="19.6" lengthAdjust="spacingAndGlyphs">30</text>
<text x="381.9" y="523.7" font-size="18" text-anchor="middle" textLength="19.6" lengthAdjust="spacingAndGlyphs">40</text>
<text x="441.4" y="523.7" font-size="18" text-anchor="middle" textLength="19.6" lengthAdjust="spacingAndGlyphs">50</text>
<text x="501.0" y="523.7" font-size="18" text-anchor="middle" textLength="19.6" lengthAdjust="spacingAndGlyphs">60</text>
<text x="560.6" y="523.7" font-size="18" text-anchor="middle" textLength="19.6" lengthAdjust="spacingAndGlyphs">70</text>
<text x="620.2" y="523.7" font-size="18" text-anchor="middle" textLength="19.6" lengthAdjust="spacingAndGlyphs">80</text>
<text x="679.8" y="523.7" font-size="18" text-anchor="middle" textLength="19.6" lengthAdjust="spacingAndGlyphs">90</text>
</svg></body></html>
